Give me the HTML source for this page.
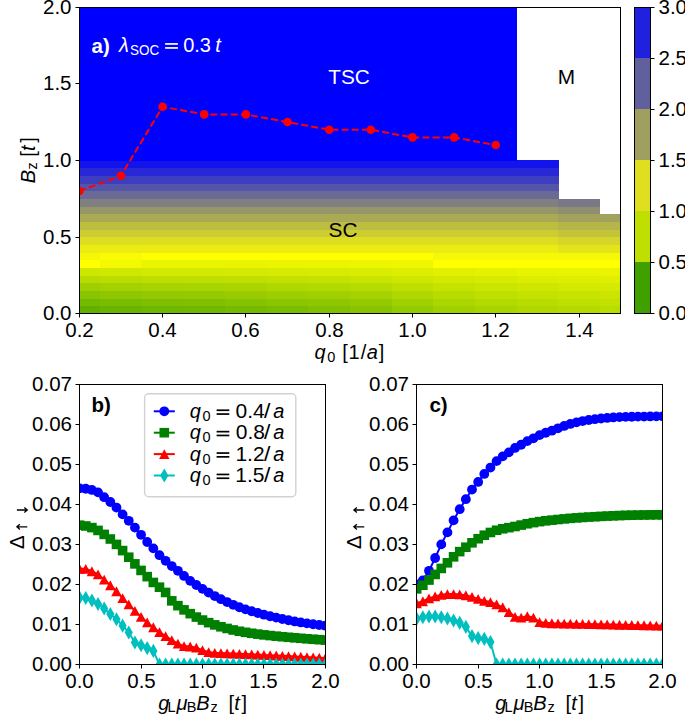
<!DOCTYPE html>
<html><head><meta charset="utf-8"><style>
html,body{margin:0;padding:0;background:#fff;}
svg{display:block;}
.t{font-family:"Liberation Sans", sans-serif;font-size:20.5px;fill:#000;}
.f{font-family:"Liberation Sans", sans-serif;fill:#000;}
.l{font-family:"Liberation Sans", sans-serif;font-size:20.8px;fill:#000;}
</style></head><body>
<svg width="685" height="717" viewBox="0 0 685 717">
<rect width="685" height="717" fill="#fff"/>
<g shape-rendering="crispEdges">
<rect x="79.30" y="306.03" width="21.12" height="7.97" fill="#61b000"/>
<rect x="79.30" y="298.37" width="21.12" height="7.96" fill="#73ba00"/>
<rect x="79.30" y="290.70" width="21.12" height="7.97" fill="#89c400"/>
<rect x="79.30" y="283.04" width="21.12" height="7.97" fill="#9fcf00"/>
<rect x="79.30" y="275.38" width="21.12" height="7.96" fill="#b6db00"/>
<rect x="79.30" y="267.71" width="21.12" height="7.97" fill="#cee700"/>
<rect x="79.30" y="260.04" width="21.12" height="7.97" fill="#ffff00"/>
<rect x="79.30" y="252.38" width="21.12" height="7.96" fill="#f6f609"/>
<rect x="79.30" y="244.71" width="21.12" height="7.97" fill="#ecec13"/>
<rect x="79.30" y="237.05" width="21.12" height="7.96" fill="#dddd22"/>
<rect x="79.30" y="229.38" width="21.12" height="7.96" fill="#cccc33"/>
<rect x="79.30" y="221.72" width="21.12" height="7.97" fill="#bdbd42"/>
<rect x="79.30" y="214.05" width="21.12" height="7.96" fill="#aaaa55"/>
<rect x="79.30" y="206.39" width="21.12" height="7.96" fill="#969669"/>
<rect x="79.30" y="198.72" width="21.12" height="7.97" fill="#808080"/>
<rect x="79.30" y="191.06" width="21.12" height="7.96" fill="#6a6a95"/>
<rect x="79.30" y="183.39" width="21.12" height="7.97" fill="#5454ab"/>
<rect x="79.30" y="175.73" width="21.12" height="7.96" fill="#3e3ec1"/>
<rect x="79.30" y="168.06" width="21.12" height="7.96" fill="#2828d7"/>
<rect x="79.30" y="160.40" width="21.12" height="7.96" fill="#1313ec"/>
<rect x="79.30" y="152.73" width="21.12" height="7.97" fill="#0000ff"/>
<rect x="79.30" y="145.07" width="21.12" height="7.96" fill="#0000ff"/>
<rect x="79.30" y="137.40" width="21.12" height="7.97" fill="#0000ff"/>
<rect x="79.30" y="129.74" width="21.12" height="7.96" fill="#0000ff"/>
<rect x="79.30" y="122.07" width="21.12" height="7.96" fill="#0000ff"/>
<rect x="79.30" y="114.41" width="21.12" height="7.97" fill="#0000ff"/>
<rect x="79.30" y="106.74" width="21.12" height="7.97" fill="#0000ff"/>
<rect x="79.30" y="99.08" width="21.12" height="7.96" fill="#0000ff"/>
<rect x="79.30" y="91.41" width="21.12" height="7.97" fill="#0000ff"/>
<rect x="79.30" y="83.75" width="21.12" height="7.96" fill="#0000ff"/>
<rect x="79.30" y="76.08" width="21.12" height="7.97" fill="#0000ff"/>
<rect x="79.30" y="68.42" width="21.12" height="7.96" fill="#0000ff"/>
<rect x="79.30" y="60.75" width="21.12" height="7.97" fill="#0000ff"/>
<rect x="79.30" y="53.09" width="21.12" height="7.97" fill="#0000ff"/>
<rect x="79.30" y="45.42" width="21.12" height="7.96" fill="#0000ff"/>
<rect x="79.30" y="37.76" width="21.12" height="7.97" fill="#0000ff"/>
<rect x="79.30" y="30.09" width="21.12" height="7.96" fill="#0000ff"/>
<rect x="79.30" y="22.43" width="21.12" height="7.97" fill="#0000ff"/>
<rect x="79.30" y="14.76" width="21.12" height="7.97" fill="#0000ff"/>
<rect x="79.30" y="7.10" width="21.12" height="7.96" fill="#0000ff"/>
<rect x="100.12" y="306.03" width="41.95" height="7.97" fill="#69b400"/>
<rect x="100.12" y="298.37" width="41.95" height="7.96" fill="#7abd00"/>
<rect x="100.12" y="290.70" width="41.95" height="7.97" fill="#8ec700"/>
<rect x="100.12" y="283.04" width="41.95" height="7.97" fill="#a4d200"/>
<rect x="100.12" y="275.38" width="41.95" height="7.96" fill="#badd00"/>
<rect x="100.12" y="267.71" width="41.95" height="7.97" fill="#d0e800"/>
<rect x="100.12" y="260.04" width="41.95" height="7.97" fill="#f2f900"/>
<rect x="100.12" y="252.38" width="41.95" height="7.96" fill="#fafa05"/>
<rect x="100.12" y="244.71" width="41.95" height="7.97" fill="#ecec13"/>
<rect x="100.12" y="237.05" width="41.95" height="7.96" fill="#dddd22"/>
<rect x="100.12" y="229.38" width="41.95" height="7.96" fill="#cccc33"/>
<rect x="100.12" y="221.72" width="41.95" height="7.97" fill="#bdbd42"/>
<rect x="100.12" y="214.05" width="41.95" height="7.96" fill="#aaaa55"/>
<rect x="100.12" y="206.39" width="41.95" height="7.96" fill="#969669"/>
<rect x="100.12" y="198.72" width="41.95" height="7.97" fill="#808080"/>
<rect x="100.12" y="191.06" width="41.95" height="7.96" fill="#6a6a95"/>
<rect x="100.12" y="183.39" width="41.95" height="7.97" fill="#5454ab"/>
<rect x="100.12" y="175.73" width="41.95" height="7.96" fill="#3e3ec1"/>
<rect x="100.12" y="168.06" width="41.95" height="7.96" fill="#2828d7"/>
<rect x="100.12" y="160.40" width="41.95" height="7.96" fill="#1313ec"/>
<rect x="100.12" y="152.73" width="41.95" height="7.97" fill="#0000ff"/>
<rect x="100.12" y="145.07" width="41.95" height="7.96" fill="#0000ff"/>
<rect x="100.12" y="137.40" width="41.95" height="7.97" fill="#0000ff"/>
<rect x="100.12" y="129.74" width="41.95" height="7.96" fill="#0000ff"/>
<rect x="100.12" y="122.07" width="41.95" height="7.96" fill="#0000ff"/>
<rect x="100.12" y="114.41" width="41.95" height="7.97" fill="#0000ff"/>
<rect x="100.12" y="106.74" width="41.95" height="7.97" fill="#0000ff"/>
<rect x="100.12" y="99.08" width="41.95" height="7.96" fill="#0000ff"/>
<rect x="100.12" y="91.41" width="41.95" height="7.97" fill="#0000ff"/>
<rect x="100.12" y="83.75" width="41.95" height="7.96" fill="#0000ff"/>
<rect x="100.12" y="76.08" width="41.95" height="7.97" fill="#0000ff"/>
<rect x="100.12" y="68.42" width="41.95" height="7.96" fill="#0000ff"/>
<rect x="100.12" y="60.75" width="41.95" height="7.97" fill="#0000ff"/>
<rect x="100.12" y="53.09" width="41.95" height="7.97" fill="#0000ff"/>
<rect x="100.12" y="45.42" width="41.95" height="7.96" fill="#0000ff"/>
<rect x="100.12" y="37.76" width="41.95" height="7.97" fill="#0000ff"/>
<rect x="100.12" y="30.09" width="41.95" height="7.96" fill="#0000ff"/>
<rect x="100.12" y="22.43" width="41.95" height="7.97" fill="#0000ff"/>
<rect x="100.12" y="14.76" width="41.95" height="7.97" fill="#0000ff"/>
<rect x="100.12" y="7.10" width="41.95" height="7.96" fill="#0000ff"/>
<rect x="141.77" y="306.03" width="41.95" height="7.97" fill="#6eb700"/>
<rect x="141.77" y="298.37" width="41.95" height="7.96" fill="#7fbf00"/>
<rect x="141.77" y="290.70" width="41.95" height="7.97" fill="#92c900"/>
<rect x="141.77" y="283.04" width="41.95" height="7.97" fill="#a7d300"/>
<rect x="141.77" y="275.38" width="41.95" height="7.96" fill="#bcde00"/>
<rect x="141.77" y="267.71" width="41.95" height="7.97" fill="#d2e900"/>
<rect x="141.77" y="260.04" width="41.95" height="7.97" fill="#e8f400"/>
<rect x="141.77" y="252.38" width="41.95" height="7.96" fill="#ffff00"/>
<rect x="141.77" y="244.71" width="41.95" height="7.97" fill="#ecec13"/>
<rect x="141.77" y="237.05" width="41.95" height="7.96" fill="#dddd22"/>
<rect x="141.77" y="229.38" width="41.95" height="7.96" fill="#cccc33"/>
<rect x="141.77" y="221.72" width="41.95" height="7.97" fill="#bdbd42"/>
<rect x="141.77" y="214.05" width="41.95" height="7.96" fill="#aaaa55"/>
<rect x="141.77" y="206.39" width="41.95" height="7.96" fill="#969669"/>
<rect x="141.77" y="198.72" width="41.95" height="7.97" fill="#808080"/>
<rect x="141.77" y="191.06" width="41.95" height="7.96" fill="#6a6a95"/>
<rect x="141.77" y="183.39" width="41.95" height="7.97" fill="#5454ab"/>
<rect x="141.77" y="175.73" width="41.95" height="7.96" fill="#3e3ec1"/>
<rect x="141.77" y="168.06" width="41.95" height="7.96" fill="#2828d7"/>
<rect x="141.77" y="160.40" width="41.95" height="7.96" fill="#1313ec"/>
<rect x="141.77" y="152.73" width="41.95" height="7.97" fill="#0000ff"/>
<rect x="141.77" y="145.07" width="41.95" height="7.96" fill="#0000ff"/>
<rect x="141.77" y="137.40" width="41.95" height="7.97" fill="#0000ff"/>
<rect x="141.77" y="129.74" width="41.95" height="7.96" fill="#0000ff"/>
<rect x="141.77" y="122.07" width="41.95" height="7.96" fill="#0000ff"/>
<rect x="141.77" y="114.41" width="41.95" height="7.97" fill="#0000ff"/>
<rect x="141.77" y="106.74" width="41.95" height="7.97" fill="#0000ff"/>
<rect x="141.77" y="99.08" width="41.95" height="7.96" fill="#0000ff"/>
<rect x="141.77" y="91.41" width="41.95" height="7.97" fill="#0000ff"/>
<rect x="141.77" y="83.75" width="41.95" height="7.96" fill="#0000ff"/>
<rect x="141.77" y="76.08" width="41.95" height="7.97" fill="#0000ff"/>
<rect x="141.77" y="68.42" width="41.95" height="7.96" fill="#0000ff"/>
<rect x="141.77" y="60.75" width="41.95" height="7.97" fill="#0000ff"/>
<rect x="141.77" y="53.09" width="41.95" height="7.97" fill="#0000ff"/>
<rect x="141.77" y="45.42" width="41.95" height="7.96" fill="#0000ff"/>
<rect x="141.77" y="37.76" width="41.95" height="7.97" fill="#0000ff"/>
<rect x="141.77" y="30.09" width="41.95" height="7.96" fill="#0000ff"/>
<rect x="141.77" y="22.43" width="41.95" height="7.97" fill="#0000ff"/>
<rect x="141.77" y="14.76" width="41.95" height="7.97" fill="#0000ff"/>
<rect x="141.77" y="7.10" width="41.95" height="7.96" fill="#0000ff"/>
<rect x="183.42" y="306.03" width="41.95" height="7.97" fill="#70b800"/>
<rect x="183.42" y="298.37" width="41.95" height="7.96" fill="#81c000"/>
<rect x="183.42" y="290.70" width="41.95" height="7.97" fill="#94ca00"/>
<rect x="183.42" y="283.04" width="41.95" height="7.97" fill="#a8d400"/>
<rect x="183.42" y="275.38" width="41.95" height="7.96" fill="#bdde00"/>
<rect x="183.42" y="267.71" width="41.95" height="7.97" fill="#d3e900"/>
<rect x="183.42" y="260.04" width="41.95" height="7.97" fill="#e9f400"/>
<rect x="183.42" y="252.38" width="41.95" height="7.96" fill="#ffff00"/>
<rect x="183.42" y="244.71" width="41.95" height="7.97" fill="#ecec13"/>
<rect x="183.42" y="237.05" width="41.95" height="7.96" fill="#dddd22"/>
<rect x="183.42" y="229.38" width="41.95" height="7.96" fill="#cccc33"/>
<rect x="183.42" y="221.72" width="41.95" height="7.97" fill="#bdbd42"/>
<rect x="183.42" y="214.05" width="41.95" height="7.96" fill="#aaaa55"/>
<rect x="183.42" y="206.39" width="41.95" height="7.96" fill="#969669"/>
<rect x="183.42" y="198.72" width="41.95" height="7.97" fill="#808080"/>
<rect x="183.42" y="191.06" width="41.95" height="7.96" fill="#6a6a95"/>
<rect x="183.42" y="183.39" width="41.95" height="7.97" fill="#5454ab"/>
<rect x="183.42" y="175.73" width="41.95" height="7.96" fill="#3e3ec1"/>
<rect x="183.42" y="168.06" width="41.95" height="7.96" fill="#2828d7"/>
<rect x="183.42" y="160.40" width="41.95" height="7.96" fill="#1313ec"/>
<rect x="183.42" y="152.73" width="41.95" height="7.97" fill="#0000ff"/>
<rect x="183.42" y="145.07" width="41.95" height="7.96" fill="#0000ff"/>
<rect x="183.42" y="137.40" width="41.95" height="7.97" fill="#0000ff"/>
<rect x="183.42" y="129.74" width="41.95" height="7.96" fill="#0000ff"/>
<rect x="183.42" y="122.07" width="41.95" height="7.96" fill="#0000ff"/>
<rect x="183.42" y="114.41" width="41.95" height="7.97" fill="#0000ff"/>
<rect x="183.42" y="106.74" width="41.95" height="7.97" fill="#0000ff"/>
<rect x="183.42" y="99.08" width="41.95" height="7.96" fill="#0000ff"/>
<rect x="183.42" y="91.41" width="41.95" height="7.97" fill="#0000ff"/>
<rect x="183.42" y="83.75" width="41.95" height="7.96" fill="#0000ff"/>
<rect x="183.42" y="76.08" width="41.95" height="7.97" fill="#0000ff"/>
<rect x="183.42" y="68.42" width="41.95" height="7.96" fill="#0000ff"/>
<rect x="183.42" y="60.75" width="41.95" height="7.97" fill="#0000ff"/>
<rect x="183.42" y="53.09" width="41.95" height="7.97" fill="#0000ff"/>
<rect x="183.42" y="45.42" width="41.95" height="7.96" fill="#0000ff"/>
<rect x="183.42" y="37.76" width="41.95" height="7.97" fill="#0000ff"/>
<rect x="183.42" y="30.09" width="41.95" height="7.96" fill="#0000ff"/>
<rect x="183.42" y="22.43" width="41.95" height="7.97" fill="#0000ff"/>
<rect x="183.42" y="14.76" width="41.95" height="7.97" fill="#0000ff"/>
<rect x="183.42" y="7.10" width="41.95" height="7.96" fill="#0000ff"/>
<rect x="225.06" y="306.03" width="41.95" height="7.97" fill="#75ba00"/>
<rect x="225.06" y="298.37" width="41.95" height="7.96" fill="#85c200"/>
<rect x="225.06" y="290.70" width="41.95" height="7.97" fill="#98cc00"/>
<rect x="225.06" y="283.04" width="41.95" height="7.97" fill="#acd500"/>
<rect x="225.06" y="275.38" width="41.95" height="7.96" fill="#c0df00"/>
<rect x="225.06" y="267.71" width="41.95" height="7.97" fill="#d4ea00"/>
<rect x="225.06" y="260.04" width="41.95" height="7.97" fill="#eaf400"/>
<rect x="225.06" y="252.38" width="41.95" height="7.96" fill="#ffff00"/>
<rect x="225.06" y="244.71" width="41.95" height="7.97" fill="#ecec13"/>
<rect x="225.06" y="237.05" width="41.95" height="7.96" fill="#dddd22"/>
<rect x="225.06" y="229.38" width="41.95" height="7.96" fill="#cccc33"/>
<rect x="225.06" y="221.72" width="41.95" height="7.97" fill="#bdbd42"/>
<rect x="225.06" y="214.05" width="41.95" height="7.96" fill="#aaaa55"/>
<rect x="225.06" y="206.39" width="41.95" height="7.96" fill="#969669"/>
<rect x="225.06" y="198.72" width="41.95" height="7.97" fill="#808080"/>
<rect x="225.06" y="191.06" width="41.95" height="7.96" fill="#6a6a95"/>
<rect x="225.06" y="183.39" width="41.95" height="7.97" fill="#5454ab"/>
<rect x="225.06" y="175.73" width="41.95" height="7.96" fill="#3e3ec1"/>
<rect x="225.06" y="168.06" width="41.95" height="7.96" fill="#2828d7"/>
<rect x="225.06" y="160.40" width="41.95" height="7.96" fill="#1313ec"/>
<rect x="225.06" y="152.73" width="41.95" height="7.97" fill="#0000ff"/>
<rect x="225.06" y="145.07" width="41.95" height="7.96" fill="#0000ff"/>
<rect x="225.06" y="137.40" width="41.95" height="7.97" fill="#0000ff"/>
<rect x="225.06" y="129.74" width="41.95" height="7.96" fill="#0000ff"/>
<rect x="225.06" y="122.07" width="41.95" height="7.96" fill="#0000ff"/>
<rect x="225.06" y="114.41" width="41.95" height="7.97" fill="#0000ff"/>
<rect x="225.06" y="106.74" width="41.95" height="7.97" fill="#0000ff"/>
<rect x="225.06" y="99.08" width="41.95" height="7.96" fill="#0000ff"/>
<rect x="225.06" y="91.41" width="41.95" height="7.97" fill="#0000ff"/>
<rect x="225.06" y="83.75" width="41.95" height="7.96" fill="#0000ff"/>
<rect x="225.06" y="76.08" width="41.95" height="7.97" fill="#0000ff"/>
<rect x="225.06" y="68.42" width="41.95" height="7.96" fill="#0000ff"/>
<rect x="225.06" y="60.75" width="41.95" height="7.97" fill="#0000ff"/>
<rect x="225.06" y="53.09" width="41.95" height="7.97" fill="#0000ff"/>
<rect x="225.06" y="45.42" width="41.95" height="7.96" fill="#0000ff"/>
<rect x="225.06" y="37.76" width="41.95" height="7.97" fill="#0000ff"/>
<rect x="225.06" y="30.09" width="41.95" height="7.96" fill="#0000ff"/>
<rect x="225.06" y="22.43" width="41.95" height="7.97" fill="#0000ff"/>
<rect x="225.06" y="14.76" width="41.95" height="7.97" fill="#0000ff"/>
<rect x="225.06" y="7.10" width="41.95" height="7.96" fill="#0000ff"/>
<rect x="266.71" y="306.03" width="41.95" height="7.97" fill="#7abd00"/>
<rect x="266.71" y="298.37" width="41.95" height="7.96" fill="#8ac500"/>
<rect x="266.71" y="290.70" width="41.95" height="7.97" fill="#9cce00"/>
<rect x="266.71" y="283.04" width="41.95" height="7.97" fill="#afd700"/>
<rect x="266.71" y="275.38" width="41.95" height="7.96" fill="#c2e100"/>
<rect x="266.71" y="267.71" width="41.95" height="7.97" fill="#d6eb00"/>
<rect x="266.71" y="260.04" width="41.95" height="7.97" fill="#eaf500"/>
<rect x="266.71" y="252.38" width="41.95" height="7.96" fill="#ffff00"/>
<rect x="266.71" y="244.71" width="41.95" height="7.97" fill="#ecec13"/>
<rect x="266.71" y="237.05" width="41.95" height="7.96" fill="#dddd22"/>
<rect x="266.71" y="229.38" width="41.95" height="7.96" fill="#cccc33"/>
<rect x="266.71" y="221.72" width="41.95" height="7.97" fill="#bdbd42"/>
<rect x="266.71" y="214.05" width="41.95" height="7.96" fill="#aaaa55"/>
<rect x="266.71" y="206.39" width="41.95" height="7.96" fill="#969669"/>
<rect x="266.71" y="198.72" width="41.95" height="7.97" fill="#808080"/>
<rect x="266.71" y="191.06" width="41.95" height="7.96" fill="#6a6a95"/>
<rect x="266.71" y="183.39" width="41.95" height="7.97" fill="#5454ab"/>
<rect x="266.71" y="175.73" width="41.95" height="7.96" fill="#3e3ec1"/>
<rect x="266.71" y="168.06" width="41.95" height="7.96" fill="#2828d7"/>
<rect x="266.71" y="160.40" width="41.95" height="7.96" fill="#1313ec"/>
<rect x="266.71" y="152.73" width="41.95" height="7.97" fill="#0000ff"/>
<rect x="266.71" y="145.07" width="41.95" height="7.96" fill="#0000ff"/>
<rect x="266.71" y="137.40" width="41.95" height="7.97" fill="#0000ff"/>
<rect x="266.71" y="129.74" width="41.95" height="7.96" fill="#0000ff"/>
<rect x="266.71" y="122.07" width="41.95" height="7.96" fill="#0000ff"/>
<rect x="266.71" y="114.41" width="41.95" height="7.97" fill="#0000ff"/>
<rect x="266.71" y="106.74" width="41.95" height="7.97" fill="#0000ff"/>
<rect x="266.71" y="99.08" width="41.95" height="7.96" fill="#0000ff"/>
<rect x="266.71" y="91.41" width="41.95" height="7.97" fill="#0000ff"/>
<rect x="266.71" y="83.75" width="41.95" height="7.96" fill="#0000ff"/>
<rect x="266.71" y="76.08" width="41.95" height="7.97" fill="#0000ff"/>
<rect x="266.71" y="68.42" width="41.95" height="7.96" fill="#0000ff"/>
<rect x="266.71" y="60.75" width="41.95" height="7.97" fill="#0000ff"/>
<rect x="266.71" y="53.09" width="41.95" height="7.97" fill="#0000ff"/>
<rect x="266.71" y="45.42" width="41.95" height="7.96" fill="#0000ff"/>
<rect x="266.71" y="37.76" width="41.95" height="7.97" fill="#0000ff"/>
<rect x="266.71" y="30.09" width="41.95" height="7.96" fill="#0000ff"/>
<rect x="266.71" y="22.43" width="41.95" height="7.97" fill="#0000ff"/>
<rect x="266.71" y="14.76" width="41.95" height="7.97" fill="#0000ff"/>
<rect x="266.71" y="7.10" width="41.95" height="7.96" fill="#0000ff"/>
<rect x="308.35" y="306.03" width="41.95" height="7.97" fill="#80c000"/>
<rect x="308.35" y="298.37" width="41.95" height="7.96" fill="#8ec700"/>
<rect x="308.35" y="290.70" width="41.95" height="7.97" fill="#a0d000"/>
<rect x="308.35" y="283.04" width="41.95" height="7.97" fill="#b2d900"/>
<rect x="308.35" y="275.38" width="41.95" height="7.96" fill="#c4e200"/>
<rect x="308.35" y="267.71" width="41.95" height="7.97" fill="#d8eb00"/>
<rect x="308.35" y="260.04" width="41.95" height="7.97" fill="#ebf500"/>
<rect x="308.35" y="252.38" width="41.95" height="7.96" fill="#ffff00"/>
<rect x="308.35" y="244.71" width="41.95" height="7.97" fill="#ecec13"/>
<rect x="308.35" y="237.05" width="41.95" height="7.96" fill="#dddd22"/>
<rect x="308.35" y="229.38" width="41.95" height="7.96" fill="#cccc33"/>
<rect x="308.35" y="221.72" width="41.95" height="7.97" fill="#bdbd42"/>
<rect x="308.35" y="214.05" width="41.95" height="7.96" fill="#aaaa55"/>
<rect x="308.35" y="206.39" width="41.95" height="7.96" fill="#969669"/>
<rect x="308.35" y="198.72" width="41.95" height="7.97" fill="#808080"/>
<rect x="308.35" y="191.06" width="41.95" height="7.96" fill="#6a6a95"/>
<rect x="308.35" y="183.39" width="41.95" height="7.97" fill="#5454ab"/>
<rect x="308.35" y="175.73" width="41.95" height="7.96" fill="#3e3ec1"/>
<rect x="308.35" y="168.06" width="41.95" height="7.96" fill="#2828d7"/>
<rect x="308.35" y="160.40" width="41.95" height="7.96" fill="#1313ec"/>
<rect x="308.35" y="152.73" width="41.95" height="7.97" fill="#0000ff"/>
<rect x="308.35" y="145.07" width="41.95" height="7.96" fill="#0000ff"/>
<rect x="308.35" y="137.40" width="41.95" height="7.97" fill="#0000ff"/>
<rect x="308.35" y="129.74" width="41.95" height="7.96" fill="#0000ff"/>
<rect x="308.35" y="122.07" width="41.95" height="7.96" fill="#0000ff"/>
<rect x="308.35" y="114.41" width="41.95" height="7.97" fill="#0000ff"/>
<rect x="308.35" y="106.74" width="41.95" height="7.97" fill="#0000ff"/>
<rect x="308.35" y="99.08" width="41.95" height="7.96" fill="#0000ff"/>
<rect x="308.35" y="91.41" width="41.95" height="7.97" fill="#0000ff"/>
<rect x="308.35" y="83.75" width="41.95" height="7.96" fill="#0000ff"/>
<rect x="308.35" y="76.08" width="41.95" height="7.97" fill="#0000ff"/>
<rect x="308.35" y="68.42" width="41.95" height="7.96" fill="#0000ff"/>
<rect x="308.35" y="60.75" width="41.95" height="7.97" fill="#0000ff"/>
<rect x="308.35" y="53.09" width="41.95" height="7.97" fill="#0000ff"/>
<rect x="308.35" y="45.42" width="41.95" height="7.96" fill="#0000ff"/>
<rect x="308.35" y="37.76" width="41.95" height="7.97" fill="#0000ff"/>
<rect x="308.35" y="30.09" width="41.95" height="7.96" fill="#0000ff"/>
<rect x="308.35" y="22.43" width="41.95" height="7.97" fill="#0000ff"/>
<rect x="308.35" y="14.76" width="41.95" height="7.97" fill="#0000ff"/>
<rect x="308.35" y="7.10" width="41.95" height="7.96" fill="#0000ff"/>
<rect x="350.00" y="306.03" width="41.95" height="7.97" fill="#87c300"/>
<rect x="350.00" y="298.37" width="41.95" height="7.96" fill="#95ca00"/>
<rect x="350.00" y="290.70" width="41.95" height="7.97" fill="#a5d200"/>
<rect x="350.00" y="283.04" width="41.95" height="7.97" fill="#b6db00"/>
<rect x="350.00" y="275.38" width="41.95" height="7.96" fill="#c8e400"/>
<rect x="350.00" y="267.71" width="41.95" height="7.97" fill="#daed00"/>
<rect x="350.00" y="260.04" width="41.95" height="7.97" fill="#ecf600"/>
<rect x="350.00" y="252.38" width="41.95" height="7.96" fill="#ffff00"/>
<rect x="350.00" y="244.71" width="41.95" height="7.97" fill="#ecec13"/>
<rect x="350.00" y="237.05" width="41.95" height="7.96" fill="#dddd22"/>
<rect x="350.00" y="229.38" width="41.95" height="7.96" fill="#cccc33"/>
<rect x="350.00" y="221.72" width="41.95" height="7.97" fill="#bdbd42"/>
<rect x="350.00" y="214.05" width="41.95" height="7.96" fill="#aaaa55"/>
<rect x="350.00" y="206.39" width="41.95" height="7.96" fill="#969669"/>
<rect x="350.00" y="198.72" width="41.95" height="7.97" fill="#808080"/>
<rect x="350.00" y="191.06" width="41.95" height="7.96" fill="#6a6a95"/>
<rect x="350.00" y="183.39" width="41.95" height="7.97" fill="#5454ab"/>
<rect x="350.00" y="175.73" width="41.95" height="7.96" fill="#3e3ec1"/>
<rect x="350.00" y="168.06" width="41.95" height="7.96" fill="#2828d7"/>
<rect x="350.00" y="160.40" width="41.95" height="7.96" fill="#1313ec"/>
<rect x="350.00" y="152.73" width="41.95" height="7.97" fill="#0000ff"/>
<rect x="350.00" y="145.07" width="41.95" height="7.96" fill="#0000ff"/>
<rect x="350.00" y="137.40" width="41.95" height="7.97" fill="#0000ff"/>
<rect x="350.00" y="129.74" width="41.95" height="7.96" fill="#0000ff"/>
<rect x="350.00" y="122.07" width="41.95" height="7.96" fill="#0000ff"/>
<rect x="350.00" y="114.41" width="41.95" height="7.97" fill="#0000ff"/>
<rect x="350.00" y="106.74" width="41.95" height="7.97" fill="#0000ff"/>
<rect x="350.00" y="99.08" width="41.95" height="7.96" fill="#0000ff"/>
<rect x="350.00" y="91.41" width="41.95" height="7.97" fill="#0000ff"/>
<rect x="350.00" y="83.75" width="41.95" height="7.96" fill="#0000ff"/>
<rect x="350.00" y="76.08" width="41.95" height="7.97" fill="#0000ff"/>
<rect x="350.00" y="68.42" width="41.95" height="7.96" fill="#0000ff"/>
<rect x="350.00" y="60.75" width="41.95" height="7.97" fill="#0000ff"/>
<rect x="350.00" y="53.09" width="41.95" height="7.97" fill="#0000ff"/>
<rect x="350.00" y="45.42" width="41.95" height="7.96" fill="#0000ff"/>
<rect x="350.00" y="37.76" width="41.95" height="7.97" fill="#0000ff"/>
<rect x="350.00" y="30.09" width="41.95" height="7.96" fill="#0000ff"/>
<rect x="350.00" y="22.43" width="41.95" height="7.97" fill="#0000ff"/>
<rect x="350.00" y="14.76" width="41.95" height="7.97" fill="#0000ff"/>
<rect x="350.00" y="7.10" width="41.95" height="7.96" fill="#0000ff"/>
<rect x="391.65" y="306.03" width="41.95" height="7.97" fill="#94ca00"/>
<rect x="391.65" y="298.37" width="41.95" height="7.96" fill="#a0d000"/>
<rect x="391.65" y="290.70" width="41.95" height="7.97" fill="#afd700"/>
<rect x="391.65" y="283.04" width="41.95" height="7.97" fill="#bedf00"/>
<rect x="391.65" y="275.38" width="41.95" height="7.96" fill="#cee600"/>
<rect x="391.65" y="267.71" width="41.95" height="7.97" fill="#deee00"/>
<rect x="391.65" y="260.04" width="41.95" height="7.97" fill="#eef700"/>
<rect x="391.65" y="252.38" width="41.95" height="7.96" fill="#ffff00"/>
<rect x="391.65" y="244.71" width="41.95" height="7.97" fill="#ecec13"/>
<rect x="391.65" y="237.05" width="41.95" height="7.96" fill="#dddd22"/>
<rect x="391.65" y="229.38" width="41.95" height="7.96" fill="#cccc33"/>
<rect x="391.65" y="221.72" width="41.95" height="7.97" fill="#bdbd42"/>
<rect x="391.65" y="214.05" width="41.95" height="7.96" fill="#aaaa55"/>
<rect x="391.65" y="206.39" width="41.95" height="7.96" fill="#969669"/>
<rect x="391.65" y="198.72" width="41.95" height="7.97" fill="#808080"/>
<rect x="391.65" y="191.06" width="41.95" height="7.96" fill="#6a6a95"/>
<rect x="391.65" y="183.39" width="41.95" height="7.97" fill="#5454ab"/>
<rect x="391.65" y="175.73" width="41.95" height="7.96" fill="#3e3ec1"/>
<rect x="391.65" y="168.06" width="41.95" height="7.96" fill="#2828d7"/>
<rect x="391.65" y="160.40" width="41.95" height="7.96" fill="#1313ec"/>
<rect x="391.65" y="152.73" width="41.95" height="7.97" fill="#0000ff"/>
<rect x="391.65" y="145.07" width="41.95" height="7.96" fill="#0000ff"/>
<rect x="391.65" y="137.40" width="41.95" height="7.97" fill="#0000ff"/>
<rect x="391.65" y="129.74" width="41.95" height="7.96" fill="#0000ff"/>
<rect x="391.65" y="122.07" width="41.95" height="7.96" fill="#0000ff"/>
<rect x="391.65" y="114.41" width="41.95" height="7.97" fill="#0000ff"/>
<rect x="391.65" y="106.74" width="41.95" height="7.97" fill="#0000ff"/>
<rect x="391.65" y="99.08" width="41.95" height="7.96" fill="#0000ff"/>
<rect x="391.65" y="91.41" width="41.95" height="7.97" fill="#0000ff"/>
<rect x="391.65" y="83.75" width="41.95" height="7.96" fill="#0000ff"/>
<rect x="391.65" y="76.08" width="41.95" height="7.97" fill="#0000ff"/>
<rect x="391.65" y="68.42" width="41.95" height="7.96" fill="#0000ff"/>
<rect x="391.65" y="60.75" width="41.95" height="7.97" fill="#0000ff"/>
<rect x="391.65" y="53.09" width="41.95" height="7.97" fill="#0000ff"/>
<rect x="391.65" y="45.42" width="41.95" height="7.96" fill="#0000ff"/>
<rect x="391.65" y="37.76" width="41.95" height="7.97" fill="#0000ff"/>
<rect x="391.65" y="30.09" width="41.95" height="7.96" fill="#0000ff"/>
<rect x="391.65" y="22.43" width="41.95" height="7.97" fill="#0000ff"/>
<rect x="391.65" y="14.76" width="41.95" height="7.97" fill="#0000ff"/>
<rect x="391.65" y="7.10" width="41.95" height="7.96" fill="#0000ff"/>
<rect x="433.29" y="306.03" width="41.95" height="7.97" fill="#a1d000"/>
<rect x="433.29" y="298.37" width="41.95" height="7.96" fill="#acd600"/>
<rect x="433.29" y="290.70" width="41.95" height="7.97" fill="#b8dc00"/>
<rect x="433.29" y="283.04" width="41.95" height="7.97" fill="#c6e300"/>
<rect x="433.29" y="275.38" width="41.95" height="7.96" fill="#d4e900"/>
<rect x="433.29" y="267.71" width="41.95" height="7.97" fill="#e2f000"/>
<rect x="433.29" y="260.04" width="41.95" height="7.97" fill="#ffff00"/>
<rect x="433.29" y="252.38" width="41.95" height="7.96" fill="#f7f708"/>
<rect x="433.29" y="244.71" width="41.95" height="7.97" fill="#ecec13"/>
<rect x="433.29" y="237.05" width="41.95" height="7.96" fill="#dddd22"/>
<rect x="433.29" y="229.38" width="41.95" height="7.96" fill="#cccc33"/>
<rect x="433.29" y="221.72" width="41.95" height="7.97" fill="#bdbd42"/>
<rect x="433.29" y="214.05" width="41.95" height="7.96" fill="#aaaa55"/>
<rect x="433.29" y="206.39" width="41.95" height="7.96" fill="#969669"/>
<rect x="433.29" y="198.72" width="41.95" height="7.97" fill="#808080"/>
<rect x="433.29" y="191.06" width="41.95" height="7.96" fill="#6a6a95"/>
<rect x="433.29" y="183.39" width="41.95" height="7.97" fill="#5454ab"/>
<rect x="433.29" y="175.73" width="41.95" height="7.96" fill="#3e3ec1"/>
<rect x="433.29" y="168.06" width="41.95" height="7.96" fill="#2828d7"/>
<rect x="433.29" y="160.40" width="41.95" height="7.96" fill="#1313ec"/>
<rect x="433.29" y="152.73" width="41.95" height="7.97" fill="#0000ff"/>
<rect x="433.29" y="145.07" width="41.95" height="7.96" fill="#0000ff"/>
<rect x="433.29" y="137.40" width="41.95" height="7.97" fill="#0000ff"/>
<rect x="433.29" y="129.74" width="41.95" height="7.96" fill="#0000ff"/>
<rect x="433.29" y="122.07" width="41.95" height="7.96" fill="#0000ff"/>
<rect x="433.29" y="114.41" width="41.95" height="7.97" fill="#0000ff"/>
<rect x="433.29" y="106.74" width="41.95" height="7.97" fill="#0000ff"/>
<rect x="433.29" y="99.08" width="41.95" height="7.96" fill="#0000ff"/>
<rect x="433.29" y="91.41" width="41.95" height="7.97" fill="#0000ff"/>
<rect x="433.29" y="83.75" width="41.95" height="7.96" fill="#0000ff"/>
<rect x="433.29" y="76.08" width="41.95" height="7.97" fill="#0000ff"/>
<rect x="433.29" y="68.42" width="41.95" height="7.96" fill="#0000ff"/>
<rect x="433.29" y="60.75" width="41.95" height="7.97" fill="#0000ff"/>
<rect x="433.29" y="53.09" width="41.95" height="7.97" fill="#0000ff"/>
<rect x="433.29" y="45.42" width="41.95" height="7.96" fill="#0000ff"/>
<rect x="433.29" y="37.76" width="41.95" height="7.97" fill="#0000ff"/>
<rect x="433.29" y="30.09" width="41.95" height="7.96" fill="#0000ff"/>
<rect x="433.29" y="22.43" width="41.95" height="7.97" fill="#0000ff"/>
<rect x="433.29" y="14.76" width="41.95" height="7.97" fill="#0000ff"/>
<rect x="433.29" y="7.10" width="41.95" height="7.96" fill="#0000ff"/>
<rect x="474.94" y="306.03" width="41.95" height="7.97" fill="#a8d400"/>
<rect x="474.94" y="298.37" width="41.95" height="7.96" fill="#b2d900"/>
<rect x="474.94" y="290.70" width="41.95" height="7.97" fill="#bedf00"/>
<rect x="474.94" y="283.04" width="41.95" height="7.97" fill="#cae500"/>
<rect x="474.94" y="275.38" width="41.95" height="7.96" fill="#d7eb00"/>
<rect x="474.94" y="267.71" width="41.95" height="7.97" fill="#e4f200"/>
<rect x="474.94" y="260.04" width="41.95" height="7.97" fill="#ffff00"/>
<rect x="474.94" y="252.38" width="41.95" height="7.96" fill="#f7f708"/>
<rect x="474.94" y="244.71" width="41.95" height="7.97" fill="#ecec13"/>
<rect x="474.94" y="237.05" width="41.95" height="7.96" fill="#dddd22"/>
<rect x="474.94" y="229.38" width="41.95" height="7.96" fill="#cccc33"/>
<rect x="474.94" y="221.72" width="41.95" height="7.97" fill="#bdbd42"/>
<rect x="474.94" y="214.05" width="41.95" height="7.96" fill="#aaaa55"/>
<rect x="474.94" y="206.39" width="41.95" height="7.96" fill="#969669"/>
<rect x="474.94" y="198.72" width="41.95" height="7.97" fill="#808080"/>
<rect x="474.94" y="191.06" width="41.95" height="7.96" fill="#6a6a95"/>
<rect x="474.94" y="183.39" width="41.95" height="7.97" fill="#5454ab"/>
<rect x="474.94" y="175.73" width="41.95" height="7.96" fill="#3e3ec1"/>
<rect x="474.94" y="168.06" width="41.95" height="7.96" fill="#2828d7"/>
<rect x="474.94" y="160.40" width="41.95" height="7.96" fill="#1313ec"/>
<rect x="474.94" y="152.73" width="41.95" height="7.97" fill="#0000ff"/>
<rect x="474.94" y="145.07" width="41.95" height="7.96" fill="#0000ff"/>
<rect x="474.94" y="137.40" width="41.95" height="7.97" fill="#0000ff"/>
<rect x="474.94" y="129.74" width="41.95" height="7.96" fill="#0000ff"/>
<rect x="474.94" y="122.07" width="41.95" height="7.96" fill="#0000ff"/>
<rect x="474.94" y="114.41" width="41.95" height="7.97" fill="#0000ff"/>
<rect x="474.94" y="106.74" width="41.95" height="7.97" fill="#0000ff"/>
<rect x="474.94" y="99.08" width="41.95" height="7.96" fill="#0000ff"/>
<rect x="474.94" y="91.41" width="41.95" height="7.97" fill="#0000ff"/>
<rect x="474.94" y="83.75" width="41.95" height="7.96" fill="#0000ff"/>
<rect x="474.94" y="76.08" width="41.95" height="7.97" fill="#0000ff"/>
<rect x="474.94" y="68.42" width="41.95" height="7.96" fill="#0000ff"/>
<rect x="474.94" y="60.75" width="41.95" height="7.97" fill="#0000ff"/>
<rect x="474.94" y="53.09" width="41.95" height="7.97" fill="#0000ff"/>
<rect x="474.94" y="45.42" width="41.95" height="7.96" fill="#0000ff"/>
<rect x="474.94" y="37.76" width="41.95" height="7.97" fill="#0000ff"/>
<rect x="474.94" y="30.09" width="41.95" height="7.96" fill="#0000ff"/>
<rect x="474.94" y="22.43" width="41.95" height="7.97" fill="#0000ff"/>
<rect x="474.94" y="14.76" width="41.95" height="7.97" fill="#0000ff"/>
<rect x="474.94" y="7.10" width="41.95" height="7.96" fill="#0000ff"/>
<rect x="516.58" y="306.03" width="41.95" height="7.97" fill="#b0d800"/>
<rect x="516.58" y="298.37" width="41.95" height="7.96" fill="#b9dc00"/>
<rect x="516.58" y="290.70" width="41.95" height="7.97" fill="#c4e200"/>
<rect x="516.58" y="283.04" width="41.95" height="7.97" fill="#cfe700"/>
<rect x="516.58" y="275.38" width="41.95" height="7.96" fill="#dbed00"/>
<rect x="516.58" y="267.71" width="41.95" height="7.97" fill="#e7f300"/>
<rect x="516.58" y="260.04" width="41.95" height="7.97" fill="#ffff00"/>
<rect x="516.58" y="252.38" width="41.95" height="7.96" fill="#f7f708"/>
<rect x="516.58" y="244.71" width="41.95" height="7.97" fill="#ecec13"/>
<rect x="516.58" y="237.05" width="41.95" height="7.96" fill="#dddd22"/>
<rect x="516.58" y="229.38" width="41.95" height="7.96" fill="#cccc33"/>
<rect x="516.58" y="221.72" width="41.95" height="7.97" fill="#bdbd42"/>
<rect x="516.58" y="214.05" width="41.95" height="7.96" fill="#aaaa55"/>
<rect x="516.58" y="206.39" width="41.95" height="7.96" fill="#969669"/>
<rect x="516.58" y="198.72" width="41.95" height="7.97" fill="#808080"/>
<rect x="516.58" y="191.06" width="41.95" height="7.96" fill="#6a6a95"/>
<rect x="516.58" y="183.39" width="41.95" height="7.97" fill="#5454ab"/>
<rect x="516.58" y="175.73" width="41.95" height="7.96" fill="#3e3ec1"/>
<rect x="516.58" y="168.06" width="41.95" height="7.96" fill="#2828d7"/>
<rect x="516.58" y="160.40" width="41.95" height="7.96" fill="#1313ec"/>
<rect x="558.23" y="306.03" width="41.95" height="7.97" fill="#b5da00"/>
<rect x="558.23" y="298.37" width="41.95" height="7.96" fill="#bedf00"/>
<rect x="558.23" y="290.70" width="41.95" height="7.97" fill="#c8e300"/>
<rect x="558.23" y="283.04" width="41.95" height="7.97" fill="#d2e900"/>
<rect x="558.23" y="275.38" width="41.95" height="7.96" fill="#ddee00"/>
<rect x="558.23" y="267.71" width="41.95" height="7.97" fill="#e8f400"/>
<rect x="558.23" y="260.04" width="41.95" height="7.97" fill="#ffff00"/>
<rect x="558.23" y="252.38" width="41.95" height="7.96" fill="#f7f708"/>
<rect x="558.23" y="244.71" width="41.95" height="7.97" fill="#e4e41b"/>
<rect x="558.23" y="237.05" width="41.95" height="7.96" fill="#d5d52a"/>
<rect x="558.23" y="229.38" width="41.95" height="7.96" fill="#c4c43b"/>
<rect x="558.23" y="221.72" width="41.95" height="7.97" fill="#b5b54a"/>
<rect x="558.23" y="214.05" width="41.95" height="7.96" fill="#a2a25d"/>
<rect x="558.23" y="206.39" width="41.95" height="7.96" fill="#8f8f70"/>
<rect x="558.23" y="198.72" width="41.95" height="7.97" fill="#787887"/>
<rect x="599.88" y="306.03" width="21.12" height="7.97" fill="#badd00"/>
<rect x="599.88" y="298.37" width="21.12" height="7.96" fill="#c2e100"/>
<rect x="599.88" y="290.70" width="21.12" height="7.97" fill="#cce500"/>
<rect x="599.88" y="283.04" width="21.12" height="7.97" fill="#d5ea00"/>
<rect x="599.88" y="275.38" width="21.12" height="7.96" fill="#dfef00"/>
<rect x="599.88" y="267.71" width="21.12" height="7.97" fill="#eaf400"/>
<rect x="599.88" y="260.04" width="21.12" height="7.97" fill="#ffff00"/>
<rect x="599.88" y="252.38" width="21.12" height="7.96" fill="#f7f708"/>
<rect x="599.88" y="244.71" width="21.12" height="7.97" fill="#e4e41b"/>
<rect x="599.88" y="237.05" width="21.12" height="7.96" fill="#d5d52a"/>
<rect x="599.88" y="229.38" width="21.12" height="7.96" fill="#c4c43b"/>
<rect x="599.88" y="221.72" width="21.12" height="7.97" fill="#b5b54a"/>
<rect x="599.88" y="214.05" width="21.12" height="7.96" fill="#a2a25d"/>
</g>
<defs><clipPath id="cpa"><rect x="79.5" y="7.5" width="541.0" height="306.0"/></clipPath></defs>
<g clip-path="url(#cpa)"><polyline points="79.30,191.06 120.95,175.73 162.59,106.74 204.24,114.41 245.88,114.41 287.53,122.07 329.18,129.74 370.82,129.74 412.47,137.41 454.12,137.41 495.76,145.07" fill="none" stroke="#ff0000" stroke-width="2" stroke-dasharray="7,3.2"/>
<circle cx="79.30" cy="191.06" r="4.3" fill="#ff0000"/>
<circle cx="120.95" cy="175.73" r="4.3" fill="#ff0000"/>
<circle cx="162.59" cy="106.74" r="4.3" fill="#ff0000"/>
<circle cx="204.24" cy="114.41" r="4.3" fill="#ff0000"/>
<circle cx="245.88" cy="114.41" r="4.3" fill="#ff0000"/>
<circle cx="287.53" cy="122.07" r="4.3" fill="#ff0000"/>
<circle cx="329.18" cy="129.74" r="4.3" fill="#ff0000"/>
<circle cx="370.82" cy="129.74" r="4.3" fill="#ff0000"/>
<circle cx="412.47" cy="137.41" r="4.3" fill="#ff0000"/>
<circle cx="454.12" cy="137.41" r="4.3" fill="#ff0000"/>
<circle cx="495.76" cy="145.07" r="4.3" fill="#ff0000"/>
</g>
<rect x="79.5" y="7.5" width="541.0" height="306.0" fill="none" stroke="#000" stroke-width="1"/>
<line x1="75.5" y1="313.5" x2="79.5" y2="313.5" stroke="#000" stroke-width="1"/>
<text x="71.5" y="319.9" text-anchor="end" class="t">0.0</text>
<line x1="75.5" y1="237.5" x2="79.5" y2="237.5" stroke="#000" stroke-width="1"/>
<text x="71.5" y="243.9" text-anchor="end" class="t">0.5</text>
<line x1="75.5" y1="160.5" x2="79.5" y2="160.5" stroke="#000" stroke-width="1"/>
<text x="71.5" y="166.9" text-anchor="end" class="t">1.0</text>
<line x1="75.5" y1="83.5" x2="79.5" y2="83.5" stroke="#000" stroke-width="1"/>
<text x="71.5" y="89.9" text-anchor="end" class="t">1.5</text>
<line x1="75.5" y1="7.5" x2="79.5" y2="7.5" stroke="#000" stroke-width="1"/>
<text x="71.5" y="13.9" text-anchor="end" class="t">2.0</text>
<line x1="79.5" y1="313.5" x2="79.5" y2="317.5" stroke="#000" stroke-width="1"/>
<text x="79.5" y="336.7" text-anchor="middle" class="t">0.2</text>
<line x1="162.5" y1="313.5" x2="162.5" y2="317.5" stroke="#000" stroke-width="1"/>
<text x="162.5" y="336.7" text-anchor="middle" class="t">0.4</text>
<line x1="245.5" y1="313.5" x2="245.5" y2="317.5" stroke="#000" stroke-width="1"/>
<text x="245.5" y="336.7" text-anchor="middle" class="t">0.6</text>
<line x1="329.5" y1="313.5" x2="329.5" y2="317.5" stroke="#000" stroke-width="1"/>
<text x="329.5" y="336.7" text-anchor="middle" class="t">0.8</text>
<line x1="412.5" y1="313.5" x2="412.5" y2="317.5" stroke="#000" stroke-width="1"/>
<text x="412.5" y="336.7" text-anchor="middle" class="t">1.0</text>
<line x1="495.5" y1="313.5" x2="495.5" y2="317.5" stroke="#000" stroke-width="1"/>
<text x="495.5" y="336.7" text-anchor="middle" class="t">1.2</text>
<line x1="579.5" y1="313.5" x2="579.5" y2="317.5" stroke="#000" stroke-width="1"/>
<text x="579.5" y="336.7" text-anchor="middle" class="t">1.4</text>
<text x="91.51" y="53.00" class="f" style="font-size:20.5px;font-weight:bold;fill:#fff;">a)</text>
<text x="119.10" y="51.90" class="f" style="font-size:20.0px;font-style:italic;fill:#fff;">λ</text>
<text transform="translate(130.00,54.80) scale(0.93,1)" class="f" style="font-size:14.5px;fill:#fff;">SOC</text>
<rect x="165.1" y="43.1" width="12.8" height="1.7" fill="#fff"/><rect x="165.1" y="47.1" width="12.8" height="1.7" fill="#fff"/>
<text x="183.18" y="51.90" class="f" style="font-size:20.0px;fill:#fff;">0.3</text>
<text x="215.33" y="51.90" class="f" style="font-size:20.0px;font-style:italic;fill:#fff;">t</text>
<text x="349" y="84" text-anchor="middle" class="l" style="fill:#fff">TSC</text>
<text x="566.5" y="84" text-anchor="middle" class="l">M</text>
<text x="343" y="237" text-anchor="middle" class="l">SC</text>
<g transform="translate(34.7,182.4) rotate(-90)">
<text x="-0.97" y="0.00" class="f" style="font-size:20.0px;font-style:italic;">B</text>
<text x="13.00" y="2.50" class="f" style="font-size:14.5px;">z</text>
<text x="25.72" y="0.00" class="f" style="font-size:20.0px;">[</text>
<text x="31.47" y="0.00" class="f" style="font-size:20.0px;font-style:italic;">t</text>
<text x="39.55" y="0.00" class="f" style="font-size:20.0px;">]</text>
</g>
<text x="314.38" y="359.30" class="f" style="font-size:20.0px;font-style:italic;">q</text>
<text x="327.26" y="362.20" class="f" style="font-size:14.5px;">0</text>
<text x="342.27" y="359.30" class="f" style="font-size:20.0px;">[</text>
<text x="348.48" y="359.30" class="f" style="font-size:20.0px;">1</text>
<text x="360.73" y="359.30" class="f" style="font-size:20.0px;">/</text>
<text x="366.65" y="359.30" class="f" style="font-size:20.0px;font-style:italic;">a</text>
<text x="378.75" y="359.30" class="f" style="font-size:20.0px;">]</text>
<g shape-rendering="crispEdges">
<rect x="634.50" y="262.09" width="16.00" height="51.31" fill="#40a000"/>
<rect x="634.50" y="211.07" width="16.00" height="51.32" fill="#bfdf00"/>
<rect x="634.50" y="160.06" width="16.00" height="51.32" fill="#dfdf20"/>
<rect x="634.50" y="109.04" width="16.00" height="51.31" fill="#9f9f60"/>
<rect x="634.50" y="58.03" width="16.00" height="51.31" fill="#60609f"/>
<rect x="634.50" y="7.01" width="16.00" height="51.32" fill="#2020df"/>
</g>
<rect x="634.5" y="7.5" width="16.0" height="306.0" fill="none" stroke="#000" stroke-width="1"/>
<line x1="650.5" y1="313.5" x2="654.5" y2="313.5" stroke="#000" stroke-width="1"/>
<text x="658.5" y="319.9" class="t">0.0</text>
<line x1="650.5" y1="262.5" x2="654.5" y2="262.5" stroke="#000" stroke-width="1"/>
<text x="658.5" y="268.9" class="t">0.5</text>
<line x1="650.5" y1="211.5" x2="654.5" y2="211.5" stroke="#000" stroke-width="1"/>
<text x="658.5" y="217.9" class="t">1.0</text>
<line x1="650.5" y1="160.5" x2="654.5" y2="160.5" stroke="#000" stroke-width="1"/>
<text x="658.5" y="166.9" class="t">1.5</text>
<line x1="650.5" y1="109.5" x2="654.5" y2="109.5" stroke="#000" stroke-width="1"/>
<text x="658.5" y="115.9" class="t">2.0</text>
<line x1="650.5" y1="58.5" x2="654.5" y2="58.5" stroke="#000" stroke-width="1"/>
<text x="658.5" y="64.9" class="t">2.5</text>
<line x1="650.5" y1="7.5" x2="654.5" y2="7.5" stroke="#000" stroke-width="1"/>
<text x="658.5" y="13.9" class="t">3.0</text>
<defs><clipPath id="cpb"><rect x="79.5" y="384.5" width="246.0" height="280.0"/></clipPath></defs>
<g clip-path="url(#cpb)">
<polyline points="79.60,488.37 85.74,488.77 91.89,489.97 98.03,492.37 104.18,497.17 110.32,501.98 116.47,507.58 122.61,514.39 128.76,520.79 134.91,527.60 141.05,534.80 147.19,542.01 153.34,548.41 159.48,555.22 165.63,560.82 171.77,566.03 177.92,570.83 184.06,575.94 190.21,580.84 196.35,585.00 202.50,588.84 208.64,592.58 214.79,596.05 220.93,599.17 227.08,602.05 233.22,604.79 239.37,607.26 245.51,609.37 251.66,611.26 257.80,613.02 263.95,614.68 270.10,616.23 276.24,617.66 282.38,619.01 288.53,620.27 294.67,621.43 300.82,622.47 306.97,623.40 313.11,624.25 319.25,625.01 325.40,625.67" fill="none" stroke="#0000ff" stroke-width="2"/>
<circle cx="79.60" cy="488.37" r="4.9" fill="#0000ff"/>
<circle cx="85.74" cy="488.77" r="4.9" fill="#0000ff"/>
<circle cx="91.89" cy="489.97" r="4.9" fill="#0000ff"/>
<circle cx="98.03" cy="492.37" r="4.9" fill="#0000ff"/>
<circle cx="104.18" cy="497.17" r="4.9" fill="#0000ff"/>
<circle cx="110.32" cy="501.98" r="4.9" fill="#0000ff"/>
<circle cx="116.47" cy="507.58" r="4.9" fill="#0000ff"/>
<circle cx="122.61" cy="514.39" r="4.9" fill="#0000ff"/>
<circle cx="128.76" cy="520.79" r="4.9" fill="#0000ff"/>
<circle cx="134.91" cy="527.60" r="4.9" fill="#0000ff"/>
<circle cx="141.05" cy="534.80" r="4.9" fill="#0000ff"/>
<circle cx="147.19" cy="542.01" r="4.9" fill="#0000ff"/>
<circle cx="153.34" cy="548.41" r="4.9" fill="#0000ff"/>
<circle cx="159.48" cy="555.22" r="4.9" fill="#0000ff"/>
<circle cx="165.63" cy="560.82" r="4.9" fill="#0000ff"/>
<circle cx="171.77" cy="566.03" r="4.9" fill="#0000ff"/>
<circle cx="177.92" cy="570.83" r="4.9" fill="#0000ff"/>
<circle cx="184.06" cy="575.94" r="4.9" fill="#0000ff"/>
<circle cx="190.21" cy="580.84" r="4.9" fill="#0000ff"/>
<circle cx="196.35" cy="585.00" r="4.9" fill="#0000ff"/>
<circle cx="202.50" cy="588.84" r="4.9" fill="#0000ff"/>
<circle cx="208.64" cy="592.58" r="4.9" fill="#0000ff"/>
<circle cx="214.79" cy="596.05" r="4.9" fill="#0000ff"/>
<circle cx="220.93" cy="599.17" r="4.9" fill="#0000ff"/>
<circle cx="227.08" cy="602.05" r="4.9" fill="#0000ff"/>
<circle cx="233.22" cy="604.79" r="4.9" fill="#0000ff"/>
<circle cx="239.37" cy="607.26" r="4.9" fill="#0000ff"/>
<circle cx="245.51" cy="609.37" r="4.9" fill="#0000ff"/>
<circle cx="251.66" cy="611.26" r="4.9" fill="#0000ff"/>
<circle cx="257.80" cy="613.02" r="4.9" fill="#0000ff"/>
<circle cx="263.95" cy="614.68" r="4.9" fill="#0000ff"/>
<circle cx="270.10" cy="616.23" r="4.9" fill="#0000ff"/>
<circle cx="276.24" cy="617.66" r="4.9" fill="#0000ff"/>
<circle cx="282.38" cy="619.01" r="4.9" fill="#0000ff"/>
<circle cx="288.53" cy="620.27" r="4.9" fill="#0000ff"/>
<circle cx="294.67" cy="621.43" r="4.9" fill="#0000ff"/>
<circle cx="300.82" cy="622.47" r="4.9" fill="#0000ff"/>
<circle cx="306.97" cy="623.40" r="4.9" fill="#0000ff"/>
<circle cx="313.11" cy="624.25" r="4.9" fill="#0000ff"/>
<circle cx="319.25" cy="625.01" r="4.9" fill="#0000ff"/>
<circle cx="325.40" cy="625.67" r="4.9" fill="#0000ff"/>
<polyline points="79.60,525.20 85.74,525.98 91.89,527.60 98.03,530.43 104.18,534.40 110.32,539.01 116.47,544.41 122.61,550.59 128.76,557.22 134.91,563.88 141.05,570.43 147.19,576.64 153.34,582.44 159.48,587.19 165.63,592.45 171.77,600.85 177.92,605.66 184.06,609.87 190.21,613.66 196.35,617.07 202.50,620.07 208.64,622.64 214.79,624.87 220.93,626.79 227.08,628.47 233.22,629.99 239.37,631.28 245.51,632.33 251.66,633.28 257.80,634.12 263.95,634.88 270.10,635.56 276.24,636.17 282.38,636.74 288.53,637.28 294.67,637.80 300.82,638.31 306.97,638.79 313.11,639.25 319.25,639.68 325.40,640.08" fill="none" stroke="#008000" stroke-width="2"/>
<rect x="74.80" y="520.40" width="9.60" height="9.60" fill="#008000"/>
<rect x="80.94" y="521.18" width="9.60" height="9.60" fill="#008000"/>
<rect x="87.09" y="522.80" width="9.60" height="9.60" fill="#008000"/>
<rect x="93.23" y="525.63" width="9.60" height="9.60" fill="#008000"/>
<rect x="99.38" y="529.60" width="9.60" height="9.60" fill="#008000"/>
<rect x="105.52" y="534.21" width="9.60" height="9.60" fill="#008000"/>
<rect x="111.67" y="539.61" width="9.60" height="9.60" fill="#008000"/>
<rect x="117.81" y="545.79" width="9.60" height="9.60" fill="#008000"/>
<rect x="123.96" y="552.42" width="9.60" height="9.60" fill="#008000"/>
<rect x="130.10" y="559.08" width="9.60" height="9.60" fill="#008000"/>
<rect x="136.25" y="565.63" width="9.60" height="9.60" fill="#008000"/>
<rect x="142.39" y="571.84" width="9.60" height="9.60" fill="#008000"/>
<rect x="148.54" y="577.64" width="9.60" height="9.60" fill="#008000"/>
<rect x="154.68" y="582.39" width="9.60" height="9.60" fill="#008000"/>
<rect x="160.83" y="587.65" width="9.60" height="9.60" fill="#008000"/>
<rect x="166.97" y="596.05" width="9.60" height="9.60" fill="#008000"/>
<rect x="173.12" y="600.86" width="9.60" height="9.60" fill="#008000"/>
<rect x="179.26" y="605.07" width="9.60" height="9.60" fill="#008000"/>
<rect x="185.41" y="608.86" width="9.60" height="9.60" fill="#008000"/>
<rect x="191.55" y="612.27" width="9.60" height="9.60" fill="#008000"/>
<rect x="197.70" y="615.27" width="9.60" height="9.60" fill="#008000"/>
<rect x="203.84" y="617.84" width="9.60" height="9.60" fill="#008000"/>
<rect x="209.99" y="620.07" width="9.60" height="9.60" fill="#008000"/>
<rect x="216.13" y="621.99" width="9.60" height="9.60" fill="#008000"/>
<rect x="222.28" y="623.67" width="9.60" height="9.60" fill="#008000"/>
<rect x="228.42" y="625.19" width="9.60" height="9.60" fill="#008000"/>
<rect x="234.57" y="626.48" width="9.60" height="9.60" fill="#008000"/>
<rect x="240.71" y="627.53" width="9.60" height="9.60" fill="#008000"/>
<rect x="246.86" y="628.48" width="9.60" height="9.60" fill="#008000"/>
<rect x="253.00" y="629.32" width="9.60" height="9.60" fill="#008000"/>
<rect x="259.15" y="630.08" width="9.60" height="9.60" fill="#008000"/>
<rect x="265.30" y="630.76" width="9.60" height="9.60" fill="#008000"/>
<rect x="271.44" y="631.37" width="9.60" height="9.60" fill="#008000"/>
<rect x="277.58" y="631.94" width="9.60" height="9.60" fill="#008000"/>
<rect x="283.73" y="632.48" width="9.60" height="9.60" fill="#008000"/>
<rect x="289.87" y="633.00" width="9.60" height="9.60" fill="#008000"/>
<rect x="296.02" y="633.51" width="9.60" height="9.60" fill="#008000"/>
<rect x="302.17" y="633.99" width="9.60" height="9.60" fill="#008000"/>
<rect x="308.31" y="634.45" width="9.60" height="9.60" fill="#008000"/>
<rect x="314.45" y="634.88" width="9.60" height="9.60" fill="#008000"/>
<rect x="320.60" y="635.28" width="9.60" height="9.60" fill="#008000"/>
<polyline points="79.60,568.83 85.74,568.83 91.89,571.23 98.03,574.43 104.18,579.64 110.32,585.24 116.47,591.25 122.61,598.05 128.76,604.46 134.91,610.86 141.05,616.86 147.19,622.47 153.34,627.27 159.48,632.08 165.63,636.08 171.77,640.08 177.92,643.68 184.06,646.09 190.21,646.49 196.35,647.69 202.50,650.09 208.64,652.09 214.79,652.89 220.93,653.12 227.08,653.29 233.22,653.53 239.37,653.78 245.51,654.05 251.66,654.32 257.80,654.61 263.95,654.89 270.10,655.18 276.24,655.48 282.38,655.78 288.53,656.09 294.67,656.41 300.82,656.74 306.97,657.07 313.11,657.40 319.25,657.75 325.40,658.10" fill="none" stroke="#ff0000" stroke-width="2"/>
<polygon points="79.60,563.93 74.40,573.73 84.80,573.73" fill="#ff0000"/>
<polygon points="85.74,563.93 80.54,573.73 90.94,573.73" fill="#ff0000"/>
<polygon points="91.89,566.33 86.69,576.13 97.09,576.13" fill="#ff0000"/>
<polygon points="98.03,569.53 92.83,579.33 103.23,579.33" fill="#ff0000"/>
<polygon points="104.18,574.74 98.98,584.54 109.38,584.54" fill="#ff0000"/>
<polygon points="110.32,580.34 105.12,590.14 115.52,590.14" fill="#ff0000"/>
<polygon points="116.47,586.35 111.27,596.15 121.67,596.15" fill="#ff0000"/>
<polygon points="122.61,593.15 117.41,602.95 127.81,602.95" fill="#ff0000"/>
<polygon points="128.76,599.56 123.56,609.36 133.96,609.36" fill="#ff0000"/>
<polygon points="134.91,605.96 129.71,615.76 140.10,615.76" fill="#ff0000"/>
<polygon points="141.05,611.96 135.85,621.76 146.25,621.76" fill="#ff0000"/>
<polygon points="147.19,617.57 142.00,627.37 152.39,627.37" fill="#ff0000"/>
<polygon points="153.34,622.37 148.14,632.17 158.54,632.17" fill="#ff0000"/>
<polygon points="159.48,627.18 154.28,636.98 164.68,636.98" fill="#ff0000"/>
<polygon points="165.63,631.18 160.43,640.98 170.83,640.98" fill="#ff0000"/>
<polygon points="171.77,635.18 166.57,644.98 176.97,644.98" fill="#ff0000"/>
<polygon points="177.92,638.78 172.72,648.58 183.12,648.58" fill="#ff0000"/>
<polygon points="184.06,641.19 178.87,650.99 189.26,650.99" fill="#ff0000"/>
<polygon points="190.21,641.59 185.01,651.39 195.41,651.39" fill="#ff0000"/>
<polygon points="196.35,642.79 191.15,652.59 201.55,652.59" fill="#ff0000"/>
<polygon points="202.50,645.19 197.30,654.99 207.70,654.99" fill="#ff0000"/>
<polygon points="208.64,647.19 203.44,656.99 213.84,656.99" fill="#ff0000"/>
<polygon points="214.79,647.99 209.59,657.79 219.99,657.79" fill="#ff0000"/>
<polygon points="220.93,648.22 215.73,658.02 226.13,658.02" fill="#ff0000"/>
<polygon points="227.08,648.39 221.88,658.19 232.28,658.19" fill="#ff0000"/>
<polygon points="233.22,648.63 228.03,658.43 238.42,658.43" fill="#ff0000"/>
<polygon points="239.37,648.88 234.17,658.68 244.57,658.68" fill="#ff0000"/>
<polygon points="245.51,649.15 240.31,658.95 250.71,658.95" fill="#ff0000"/>
<polygon points="251.66,649.42 246.46,659.22 256.86,659.22" fill="#ff0000"/>
<polygon points="257.80,649.71 252.60,659.51 263.00,659.51" fill="#ff0000"/>
<polygon points="263.95,649.99 258.75,659.79 269.15,659.79" fill="#ff0000"/>
<polygon points="270.10,650.28 264.90,660.08 275.30,660.08" fill="#ff0000"/>
<polygon points="276.24,650.58 271.04,660.38 281.44,660.38" fill="#ff0000"/>
<polygon points="282.38,650.88 277.19,660.68 287.58,660.68" fill="#ff0000"/>
<polygon points="288.53,651.19 283.33,660.99 293.73,660.99" fill="#ff0000"/>
<polygon points="294.67,651.51 289.47,661.31 299.87,661.31" fill="#ff0000"/>
<polygon points="300.82,651.84 295.62,661.64 306.02,661.64" fill="#ff0000"/>
<polygon points="306.97,652.17 301.77,661.97 312.17,661.97" fill="#ff0000"/>
<polygon points="313.11,652.50 307.91,662.30 318.31,662.30" fill="#ff0000"/>
<polygon points="319.25,652.85 314.06,662.65 324.45,662.65" fill="#ff0000"/>
<polygon points="325.40,653.20 320.20,663.00 330.60,663.00" fill="#ff0000"/>
<polyline points="79.60,597.65 85.74,598.05 91.89,600.45 98.03,604.05 104.18,608.46 110.32,614.06 116.47,619.27 122.61,625.67 128.76,632.48 134.91,642.48 141.05,645.29 147.19,648.09 153.34,650.89 159.48,664.50 165.63,664.50 171.77,664.50 177.92,664.50 184.06,664.50 190.21,664.50 196.35,664.50 202.50,664.50 208.64,664.50 214.79,664.50 220.93,664.50 227.08,664.50 233.22,664.50 239.37,664.50 245.51,664.50 251.66,664.50 257.80,664.50 263.95,664.50 270.10,664.50 276.24,664.50 282.38,664.50 288.53,664.50 294.67,664.50 300.82,664.50 306.97,664.50 313.11,664.50 319.25,664.50 325.40,664.50" fill="none" stroke="#00bfbf" stroke-width="2"/>
<polygon points="79.60,590.60 83.70,597.65 79.60,604.70 75.50,597.65" fill="#00bfbf"/>
<polygon points="85.74,591.00 89.84,598.05 85.74,605.10 81.64,598.05" fill="#00bfbf"/>
<polygon points="91.89,593.40 95.99,600.45 91.89,607.50 87.79,600.45" fill="#00bfbf"/>
<polygon points="98.03,597.00 102.13,604.05 98.03,611.10 93.94,604.05" fill="#00bfbf"/>
<polygon points="104.18,601.41 108.28,608.46 104.18,615.51 100.08,608.46" fill="#00bfbf"/>
<polygon points="110.32,607.01 114.42,614.06 110.32,621.11 106.22,614.06" fill="#00bfbf"/>
<polygon points="116.47,612.22 120.57,619.27 116.47,626.32 112.37,619.27" fill="#00bfbf"/>
<polygon points="122.61,618.62 126.71,625.67 122.61,632.72 118.51,625.67" fill="#00bfbf"/>
<polygon points="128.76,625.43 132.86,632.48 128.76,639.53 124.66,632.48" fill="#00bfbf"/>
<polygon points="134.91,635.43 139.00,642.48 134.91,649.53 130.81,642.48" fill="#00bfbf"/>
<polygon points="141.05,638.24 145.15,645.29 141.05,652.34 136.95,645.29" fill="#00bfbf"/>
<polygon points="147.19,641.04 151.29,648.09 147.19,655.14 143.09,648.09" fill="#00bfbf"/>
<polygon points="153.34,643.84 157.44,650.89 153.34,657.94 149.24,650.89" fill="#00bfbf"/>
<polygon points="159.48,657.45 163.58,664.50 159.48,671.55 155.38,664.50" fill="#00bfbf"/>
<polygon points="165.63,657.45 169.73,664.50 165.63,671.55 161.53,664.50" fill="#00bfbf"/>
<polygon points="171.77,657.45 175.87,664.50 171.77,671.55 167.67,664.50" fill="#00bfbf"/>
<polygon points="177.92,657.45 182.02,664.50 177.92,671.55 173.82,664.50" fill="#00bfbf"/>
<polygon points="184.06,657.45 188.16,664.50 184.06,671.55 179.97,664.50" fill="#00bfbf"/>
<polygon points="190.21,657.45 194.31,664.50 190.21,671.55 186.11,664.50" fill="#00bfbf"/>
<polygon points="196.35,657.45 200.45,664.50 196.35,671.55 192.25,664.50" fill="#00bfbf"/>
<polygon points="202.50,657.45 206.60,664.50 202.50,671.55 198.40,664.50" fill="#00bfbf"/>
<polygon points="208.64,657.45 212.74,664.50 208.64,671.55 204.54,664.50" fill="#00bfbf"/>
<polygon points="214.79,657.45 218.89,664.50 214.79,671.55 210.69,664.50" fill="#00bfbf"/>
<polygon points="220.93,657.45 225.03,664.50 220.93,671.55 216.83,664.50" fill="#00bfbf"/>
<polygon points="227.08,657.45 231.18,664.50 227.08,671.55 222.98,664.50" fill="#00bfbf"/>
<polygon points="233.22,657.45 237.32,664.50 233.22,671.55 229.12,664.50" fill="#00bfbf"/>
<polygon points="239.37,657.45 243.47,664.50 239.37,671.55 235.27,664.50" fill="#00bfbf"/>
<polygon points="245.51,657.45 249.61,664.50 245.51,671.55 241.41,664.50" fill="#00bfbf"/>
<polygon points="251.66,657.45 255.76,664.50 251.66,671.55 247.56,664.50" fill="#00bfbf"/>
<polygon points="257.80,657.45 261.90,664.50 257.80,671.55 253.70,664.50" fill="#00bfbf"/>
<polygon points="263.95,657.45 268.05,664.50 263.95,671.55 259.85,664.50" fill="#00bfbf"/>
<polygon points="270.10,657.45 274.20,664.50 270.10,671.55 266.00,664.50" fill="#00bfbf"/>
<polygon points="276.24,657.45 280.34,664.50 276.24,671.55 272.14,664.50" fill="#00bfbf"/>
<polygon points="282.38,657.45 286.49,664.50 282.38,671.55 278.28,664.50" fill="#00bfbf"/>
<polygon points="288.53,657.45 292.63,664.50 288.53,671.55 284.43,664.50" fill="#00bfbf"/>
<polygon points="294.67,657.45 298.77,664.50 294.67,671.55 290.57,664.50" fill="#00bfbf"/>
<polygon points="300.82,657.45 304.92,664.50 300.82,671.55 296.72,664.50" fill="#00bfbf"/>
<polygon points="306.97,657.45 311.07,664.50 306.97,671.55 302.87,664.50" fill="#00bfbf"/>
<polygon points="313.11,657.45 317.21,664.50 313.11,671.55 309.01,664.50" fill="#00bfbf"/>
<polygon points="319.25,657.45 323.36,664.50 319.25,671.55 315.15,664.50" fill="#00bfbf"/>
<polygon points="325.40,657.45 329.50,664.50 325.40,671.55 321.30,664.50" fill="#00bfbf"/>
</g>
<rect x="79.5" y="384.5" width="246.0" height="280.0" fill="none" stroke="#000" stroke-width="1"/>
<line x1="75.5" y1="664.5" x2="79.5" y2="664.5" stroke="#000" stroke-width="1"/>
<text x="72.0" y="670.9" text-anchor="end" class="t">0.00</text>
<line x1="75.5" y1="624.5" x2="79.5" y2="624.5" stroke="#000" stroke-width="1"/>
<text x="72.0" y="630.9" text-anchor="end" class="t">0.01</text>
<line x1="75.5" y1="584.5" x2="79.5" y2="584.5" stroke="#000" stroke-width="1"/>
<text x="72.0" y="590.9" text-anchor="end" class="t">0.02</text>
<line x1="75.5" y1="544.5" x2="79.5" y2="544.5" stroke="#000" stroke-width="1"/>
<text x="72.0" y="550.9" text-anchor="end" class="t">0.03</text>
<line x1="75.5" y1="504.5" x2="79.5" y2="504.5" stroke="#000" stroke-width="1"/>
<text x="72.0" y="510.9" text-anchor="end" class="t">0.04</text>
<line x1="75.5" y1="464.5" x2="79.5" y2="464.5" stroke="#000" stroke-width="1"/>
<text x="72.0" y="470.9" text-anchor="end" class="t">0.05</text>
<line x1="75.5" y1="424.5" x2="79.5" y2="424.5" stroke="#000" stroke-width="1"/>
<text x="72.0" y="430.9" text-anchor="end" class="t">0.06</text>
<line x1="75.5" y1="384.5" x2="79.5" y2="384.5" stroke="#000" stroke-width="1"/>
<text x="72.0" y="390.9" text-anchor="end" class="t">0.07</text>
<line x1="79.5" y1="664.5" x2="79.5" y2="668.5" stroke="#000" stroke-width="1"/>
<text x="79.5" y="687.7" text-anchor="middle" class="t">0.0</text>
<line x1="141.5" y1="664.5" x2="141.5" y2="668.5" stroke="#000" stroke-width="1"/>
<text x="141.5" y="687.7" text-anchor="middle" class="t">0.5</text>
<line x1="202.5" y1="664.5" x2="202.5" y2="668.5" stroke="#000" stroke-width="1"/>
<text x="202.5" y="687.7" text-anchor="middle" class="t">1.0</text>
<line x1="263.5" y1="664.5" x2="263.5" y2="668.5" stroke="#000" stroke-width="1"/>
<text x="263.5" y="687.7" text-anchor="middle" class="t">1.5</text>
<line x1="325.5" y1="664.5" x2="325.5" y2="668.5" stroke="#000" stroke-width="1"/>
<text x="325.5" y="687.7" text-anchor="middle" class="t">2.0</text>
<text x="91.59" y="411.90" class="f" style="font-size:20.5px;font-weight:bold;">b)</text>
<text x="158.20" y="709.80" class="f" style="font-size:20.0px;font-style:italic;">g</text>
<text x="167.61" y="712.00" class="f" style="font-size:14.5px;">L</text>
<text x="176.57" y="709.80" class="f" style="font-size:20.0px;font-style:italic;">μ</text>
<text x="186.69" y="712.00" class="f" style="font-size:14.5px;">B</text>
<text x="196.22" y="709.80" class="f" style="font-size:20.0px;font-style:italic;">B</text>
<text x="210.45" y="712.00" class="f" style="font-size:14.5px;">z</text>
<text x="228.57" y="709.80" class="f" style="font-size:20.0px;">[</text>
<text x="234.28" y="709.80" class="f" style="font-size:20.0px;font-style:italic;">t</text>
<text x="241.60" y="709.80" class="f" style="font-size:20.0px;">]</text>
<g transform="translate(23.80,548.3) rotate(-90)">
<text x="-0.71" y="0.00" class="f" style="font-size:20.4px;">Δ</text>
<path d="M21.45,3.5 L21.45,-6.9 M18.85,-3.9000000000000004 L21.45,-6.9 L24.05,-3.9000000000000004" fill="none" stroke="#000" stroke-width="1.3"/>
<path d="M38.30,-6.9 L38.30,3.5 M35.70,0.5 L38.30,3.5 L40.90,0.5" fill="none" stroke="#000" stroke-width="1.3"/>
</g>
<defs><clipPath id="cpc"><rect x="416.5" y="384.5" width="246.0" height="280.0"/></clipPath></defs>
<g clip-path="url(#cpc)">
<polyline points="416.70,584.44 422.84,580.44 428.99,570.83 435.13,558.02 441.28,544.41 447.43,532.40 453.57,520.39 459.71,509.18 465.86,499.18 472.00,489.57 478.15,481.96 484.30,473.96 490.44,467.55 496.58,461.15 502.73,456.34 508.88,452.34 515.02,447.94 521.16,444.74 527.31,441.13 533.45,438.33 539.60,435.13 545.75,432.73 551.89,430.72 558.03,428.32 564.18,425.97 570.33,423.92 576.47,422.35 582.62,421.05 588.76,420.01 594.90,419.18 601.05,418.49 607.19,417.92 613.34,417.42 619.49,417.09 625.63,416.91 631.77,416.77 637.92,416.66 644.07,416.55 650.21,416.46 656.36,416.37 662.50,416.31" fill="none" stroke="#0000ff" stroke-width="2"/>
<circle cx="416.70" cy="584.44" r="4.9" fill="#0000ff"/>
<circle cx="422.84" cy="580.44" r="4.9" fill="#0000ff"/>
<circle cx="428.99" cy="570.83" r="4.9" fill="#0000ff"/>
<circle cx="435.13" cy="558.02" r="4.9" fill="#0000ff"/>
<circle cx="441.28" cy="544.41" r="4.9" fill="#0000ff"/>
<circle cx="447.43" cy="532.40" r="4.9" fill="#0000ff"/>
<circle cx="453.57" cy="520.39" r="4.9" fill="#0000ff"/>
<circle cx="459.71" cy="509.18" r="4.9" fill="#0000ff"/>
<circle cx="465.86" cy="499.18" r="4.9" fill="#0000ff"/>
<circle cx="472.00" cy="489.57" r="4.9" fill="#0000ff"/>
<circle cx="478.15" cy="481.96" r="4.9" fill="#0000ff"/>
<circle cx="484.30" cy="473.96" r="4.9" fill="#0000ff"/>
<circle cx="490.44" cy="467.55" r="4.9" fill="#0000ff"/>
<circle cx="496.58" cy="461.15" r="4.9" fill="#0000ff"/>
<circle cx="502.73" cy="456.34" r="4.9" fill="#0000ff"/>
<circle cx="508.88" cy="452.34" r="4.9" fill="#0000ff"/>
<circle cx="515.02" cy="447.94" r="4.9" fill="#0000ff"/>
<circle cx="521.16" cy="444.74" r="4.9" fill="#0000ff"/>
<circle cx="527.31" cy="441.13" r="4.9" fill="#0000ff"/>
<circle cx="533.45" cy="438.33" r="4.9" fill="#0000ff"/>
<circle cx="539.60" cy="435.13" r="4.9" fill="#0000ff"/>
<circle cx="545.75" cy="432.73" r="4.9" fill="#0000ff"/>
<circle cx="551.89" cy="430.72" r="4.9" fill="#0000ff"/>
<circle cx="558.03" cy="428.32" r="4.9" fill="#0000ff"/>
<circle cx="564.18" cy="425.97" r="4.9" fill="#0000ff"/>
<circle cx="570.33" cy="423.92" r="4.9" fill="#0000ff"/>
<circle cx="576.47" cy="422.35" r="4.9" fill="#0000ff"/>
<circle cx="582.62" cy="421.05" r="4.9" fill="#0000ff"/>
<circle cx="588.76" cy="420.01" r="4.9" fill="#0000ff"/>
<circle cx="594.90" cy="419.18" r="4.9" fill="#0000ff"/>
<circle cx="601.05" cy="418.49" r="4.9" fill="#0000ff"/>
<circle cx="607.19" cy="417.92" r="4.9" fill="#0000ff"/>
<circle cx="613.34" cy="417.42" r="4.9" fill="#0000ff"/>
<circle cx="619.49" cy="417.09" r="4.9" fill="#0000ff"/>
<circle cx="625.63" cy="416.91" r="4.9" fill="#0000ff"/>
<circle cx="631.77" cy="416.77" r="4.9" fill="#0000ff"/>
<circle cx="637.92" cy="416.66" r="4.9" fill="#0000ff"/>
<circle cx="644.07" cy="416.55" r="4.9" fill="#0000ff"/>
<circle cx="650.21" cy="416.46" r="4.9" fill="#0000ff"/>
<circle cx="656.36" cy="416.37" r="4.9" fill="#0000ff"/>
<circle cx="662.50" cy="416.31" r="4.9" fill="#0000ff"/>
<polyline points="416.70,588.84 422.84,585.24 428.99,580.04 435.13,574.43 441.28,568.43 447.43,562.82 453.57,556.82 459.71,551.62 465.86,547.21 472.00,542.81 478.15,538.71 484.30,535.20 490.44,532.46 496.58,530.25 502.73,528.75 508.88,527.66 515.02,526.49 521.16,525.08 527.31,523.74 533.45,522.61 539.60,521.62 545.75,520.81 551.89,520.14 558.03,519.52 564.18,518.89 570.33,518.34 576.47,517.88 582.62,517.45 588.76,517.06 594.90,516.71 601.05,516.39 607.19,516.09 613.34,515.81 619.49,515.55 625.63,515.34 631.77,515.19 637.92,515.07 644.07,514.96 650.21,514.87 656.36,514.81 662.50,514.79" fill="none" stroke="#008000" stroke-width="2"/>
<rect x="411.90" y="584.04" width="9.60" height="9.60" fill="#008000"/>
<rect x="418.04" y="580.44" width="9.60" height="9.60" fill="#008000"/>
<rect x="424.19" y="575.24" width="9.60" height="9.60" fill="#008000"/>
<rect x="430.33" y="569.63" width="9.60" height="9.60" fill="#008000"/>
<rect x="436.48" y="563.63" width="9.60" height="9.60" fill="#008000"/>
<rect x="442.62" y="558.02" width="9.60" height="9.60" fill="#008000"/>
<rect x="448.77" y="552.02" width="9.60" height="9.60" fill="#008000"/>
<rect x="454.91" y="546.82" width="9.60" height="9.60" fill="#008000"/>
<rect x="461.06" y="542.41" width="9.60" height="9.60" fill="#008000"/>
<rect x="467.20" y="538.01" width="9.60" height="9.60" fill="#008000"/>
<rect x="473.35" y="533.91" width="9.60" height="9.60" fill="#008000"/>
<rect x="479.50" y="530.40" width="9.60" height="9.60" fill="#008000"/>
<rect x="485.64" y="527.66" width="9.60" height="9.60" fill="#008000"/>
<rect x="491.78" y="525.45" width="9.60" height="9.60" fill="#008000"/>
<rect x="497.93" y="523.95" width="9.60" height="9.60" fill="#008000"/>
<rect x="504.07" y="522.86" width="9.60" height="9.60" fill="#008000"/>
<rect x="510.22" y="521.69" width="9.60" height="9.60" fill="#008000"/>
<rect x="516.37" y="520.28" width="9.60" height="9.60" fill="#008000"/>
<rect x="522.51" y="518.94" width="9.60" height="9.60" fill="#008000"/>
<rect x="528.65" y="517.81" width="9.60" height="9.60" fill="#008000"/>
<rect x="534.80" y="516.82" width="9.60" height="9.60" fill="#008000"/>
<rect x="540.95" y="516.01" width="9.60" height="9.60" fill="#008000"/>
<rect x="547.09" y="515.34" width="9.60" height="9.60" fill="#008000"/>
<rect x="553.24" y="514.72" width="9.60" height="9.60" fill="#008000"/>
<rect x="559.38" y="514.09" width="9.60" height="9.60" fill="#008000"/>
<rect x="565.53" y="513.54" width="9.60" height="9.60" fill="#008000"/>
<rect x="571.67" y="513.08" width="9.60" height="9.60" fill="#008000"/>
<rect x="577.82" y="512.65" width="9.60" height="9.60" fill="#008000"/>
<rect x="583.96" y="512.26" width="9.60" height="9.60" fill="#008000"/>
<rect x="590.11" y="511.91" width="9.60" height="9.60" fill="#008000"/>
<rect x="596.25" y="511.59" width="9.60" height="9.60" fill="#008000"/>
<rect x="602.39" y="511.29" width="9.60" height="9.60" fill="#008000"/>
<rect x="608.54" y="511.01" width="9.60" height="9.60" fill="#008000"/>
<rect x="614.69" y="510.75" width="9.60" height="9.60" fill="#008000"/>
<rect x="620.83" y="510.54" width="9.60" height="9.60" fill="#008000"/>
<rect x="626.98" y="510.39" width="9.60" height="9.60" fill="#008000"/>
<rect x="633.12" y="510.27" width="9.60" height="9.60" fill="#008000"/>
<rect x="639.27" y="510.16" width="9.60" height="9.60" fill="#008000"/>
<rect x="645.41" y="510.07" width="9.60" height="9.60" fill="#008000"/>
<rect x="651.56" y="510.01" width="9.60" height="9.60" fill="#008000"/>
<rect x="657.70" y="509.99" width="9.60" height="9.60" fill="#008000"/>
<polyline points="416.70,603.25 422.84,601.25 428.99,598.45 435.13,596.45 441.28,594.85 447.43,594.05 453.57,594.05 459.71,594.45 465.86,595.25 472.00,596.85 478.15,598.85 484.30,600.85 490.44,602.05 496.58,604.46 502.73,607.26 508.88,612.06 515.02,616.86 521.16,617.66 527.31,616.06 533.45,617.66 539.60,622.07 545.75,622.87 551.89,623.27 558.03,623.40 564.18,623.54 570.33,623.67 576.47,623.80 582.62,623.94 588.76,624.07 594.90,624.20 601.05,624.34 607.19,624.47 613.34,624.60 619.49,624.74 625.63,624.87 631.77,625.00 637.92,625.14 644.07,625.27 650.21,625.40 656.36,625.54 662.50,625.67" fill="none" stroke="#ff0000" stroke-width="2"/>
<polygon points="416.70,598.35 411.50,608.15 421.90,608.15" fill="#ff0000"/>
<polygon points="422.84,596.35 417.64,606.15 428.04,606.15" fill="#ff0000"/>
<polygon points="428.99,593.55 423.79,603.35 434.19,603.35" fill="#ff0000"/>
<polygon points="435.13,591.55 429.94,601.35 440.33,601.35" fill="#ff0000"/>
<polygon points="441.28,589.95 436.08,599.75 446.48,599.75" fill="#ff0000"/>
<polygon points="447.43,589.15 442.23,598.95 452.62,598.95" fill="#ff0000"/>
<polygon points="453.57,589.15 448.37,598.95 458.77,598.95" fill="#ff0000"/>
<polygon points="459.71,589.55 454.51,599.35 464.91,599.35" fill="#ff0000"/>
<polygon points="465.86,590.35 460.66,600.15 471.06,600.15" fill="#ff0000"/>
<polygon points="472.00,591.95 466.81,601.75 477.20,601.75" fill="#ff0000"/>
<polygon points="478.15,593.95 472.95,603.75 483.35,603.75" fill="#ff0000"/>
<polygon points="484.30,595.95 479.10,605.75 489.50,605.75" fill="#ff0000"/>
<polygon points="490.44,597.15 485.24,606.95 495.64,606.95" fill="#ff0000"/>
<polygon points="496.58,599.56 491.38,609.36 501.78,609.36" fill="#ff0000"/>
<polygon points="502.73,602.36 497.53,612.16 507.93,612.16" fill="#ff0000"/>
<polygon points="508.88,607.16 503.68,616.96 514.08,616.96" fill="#ff0000"/>
<polygon points="515.02,611.96 509.82,621.76 520.22,621.76" fill="#ff0000"/>
<polygon points="521.16,612.76 515.96,622.56 526.37,622.56" fill="#ff0000"/>
<polygon points="527.31,611.16 522.11,620.96 532.51,620.96" fill="#ff0000"/>
<polygon points="533.45,612.76 528.25,622.56 538.65,622.56" fill="#ff0000"/>
<polygon points="539.60,617.17 534.40,626.97 544.80,626.97" fill="#ff0000"/>
<polygon points="545.75,617.97 540.54,627.77 550.95,627.77" fill="#ff0000"/>
<polygon points="551.89,618.37 546.69,628.17 557.09,628.17" fill="#ff0000"/>
<polygon points="558.03,618.50 552.83,628.30 563.24,628.30" fill="#ff0000"/>
<polygon points="564.18,618.64 558.98,628.44 569.38,628.44" fill="#ff0000"/>
<polygon points="570.33,618.77 565.12,628.57 575.53,628.57" fill="#ff0000"/>
<polygon points="576.47,618.90 571.27,628.70 581.67,628.70" fill="#ff0000"/>
<polygon points="582.62,619.04 577.41,628.84 587.82,628.84" fill="#ff0000"/>
<polygon points="588.76,619.17 583.56,628.97 593.96,628.97" fill="#ff0000"/>
<polygon points="594.90,619.30 589.70,629.10 600.11,629.10" fill="#ff0000"/>
<polygon points="601.05,619.44 595.85,629.24 606.25,629.24" fill="#ff0000"/>
<polygon points="607.19,619.57 601.99,629.37 612.39,629.37" fill="#ff0000"/>
<polygon points="613.34,619.70 608.14,629.50 618.54,629.50" fill="#ff0000"/>
<polygon points="619.49,619.84 614.28,629.64 624.69,629.64" fill="#ff0000"/>
<polygon points="625.63,619.97 620.43,629.77 630.83,629.77" fill="#ff0000"/>
<polygon points="631.77,620.10 626.57,629.90 636.98,629.90" fill="#ff0000"/>
<polygon points="637.92,620.24 632.72,630.04 643.12,630.04" fill="#ff0000"/>
<polygon points="644.07,620.37 638.87,630.17 649.27,630.17" fill="#ff0000"/>
<polygon points="650.21,620.50 645.01,630.30 655.41,630.30" fill="#ff0000"/>
<polygon points="656.36,620.64 651.15,630.44 661.56,630.44" fill="#ff0000"/>
<polygon points="662.50,620.77 657.30,630.57 667.70,630.57" fill="#ff0000"/>
<polyline points="416.70,618.87 422.84,617.26 428.99,616.46 435.13,616.46 441.28,617.26 447.43,618.47 453.57,620.47 459.71,622.87 465.86,626.87 472.00,636.08 478.15,638.08 484.30,638.88 490.44,642.08 496.58,664.50 502.73,664.50 508.88,664.50 515.02,664.50 521.16,664.50 527.31,664.50 533.45,664.50 539.60,664.50 545.75,664.50 551.89,664.50 558.03,664.50 564.18,664.50 570.33,664.50 576.47,664.50 582.62,664.50 588.76,664.50 594.90,664.50 601.05,664.50 607.19,664.50 613.34,664.50 619.49,664.50 625.63,664.50 631.77,664.50 637.92,664.50 644.07,664.50 650.21,664.50 656.36,664.50 662.50,664.50" fill="none" stroke="#00bfbf" stroke-width="2"/>
<polygon points="416.70,611.82 420.80,618.87 416.70,625.92 412.60,618.87" fill="#00bfbf"/>
<polygon points="422.84,610.21 426.94,617.26 422.84,624.31 418.74,617.26" fill="#00bfbf"/>
<polygon points="428.99,609.41 433.09,616.46 428.99,623.51 424.89,616.46" fill="#00bfbf"/>
<polygon points="435.13,609.41 439.24,616.46 435.13,623.51 431.03,616.46" fill="#00bfbf"/>
<polygon points="441.28,610.21 445.38,617.26 441.28,624.31 437.18,617.26" fill="#00bfbf"/>
<polygon points="447.43,611.42 451.53,618.47 447.43,625.52 443.32,618.47" fill="#00bfbf"/>
<polygon points="453.57,613.42 457.67,620.47 453.57,627.52 449.47,620.47" fill="#00bfbf"/>
<polygon points="459.71,615.82 463.81,622.87 459.71,629.92 455.61,622.87" fill="#00bfbf"/>
<polygon points="465.86,619.82 469.96,626.87 465.86,633.92 461.76,626.87" fill="#00bfbf"/>
<polygon points="472.00,629.03 476.11,636.08 472.00,643.13 467.90,636.08" fill="#00bfbf"/>
<polygon points="478.15,631.03 482.25,638.08 478.15,645.13 474.05,638.08" fill="#00bfbf"/>
<polygon points="484.30,631.83 488.40,638.88 484.30,645.93 480.19,638.88" fill="#00bfbf"/>
<polygon points="490.44,635.03 494.54,642.08 490.44,649.13 486.34,642.08" fill="#00bfbf"/>
<polygon points="496.58,657.45 500.69,664.50 496.58,671.55 492.48,664.50" fill="#00bfbf"/>
<polygon points="502.73,657.45 506.83,664.50 502.73,671.55 498.63,664.50" fill="#00bfbf"/>
<polygon points="508.88,657.45 512.98,664.50 508.88,671.55 504.77,664.50" fill="#00bfbf"/>
<polygon points="515.02,657.45 519.12,664.50 515.02,671.55 510.92,664.50" fill="#00bfbf"/>
<polygon points="521.16,657.45 525.26,664.50 521.16,671.55 517.06,664.50" fill="#00bfbf"/>
<polygon points="527.31,657.45 531.41,664.50 527.31,671.55 523.21,664.50" fill="#00bfbf"/>
<polygon points="533.45,657.45 537.55,664.50 533.45,671.55 529.35,664.50" fill="#00bfbf"/>
<polygon points="539.60,657.45 543.70,664.50 539.60,671.55 535.50,664.50" fill="#00bfbf"/>
<polygon points="545.75,657.45 549.85,664.50 545.75,671.55 541.64,664.50" fill="#00bfbf"/>
<polygon points="551.89,657.45 555.99,664.50 551.89,671.55 547.79,664.50" fill="#00bfbf"/>
<polygon points="558.03,657.45 562.13,664.50 558.03,671.55 553.93,664.50" fill="#00bfbf"/>
<polygon points="564.18,657.45 568.28,664.50 564.18,671.55 560.08,664.50" fill="#00bfbf"/>
<polygon points="570.33,657.45 574.43,664.50 570.33,671.55 566.23,664.50" fill="#00bfbf"/>
<polygon points="576.47,657.45 580.57,664.50 576.47,671.55 572.37,664.50" fill="#00bfbf"/>
<polygon points="582.62,657.45 586.72,664.50 582.62,671.55 578.51,664.50" fill="#00bfbf"/>
<polygon points="588.76,657.45 592.86,664.50 588.76,671.55 584.66,664.50" fill="#00bfbf"/>
<polygon points="594.90,657.45 599.00,664.50 594.90,671.55 590.80,664.50" fill="#00bfbf"/>
<polygon points="601.05,657.45 605.15,664.50 601.05,671.55 596.95,664.50" fill="#00bfbf"/>
<polygon points="607.19,657.45 611.29,664.50 607.19,671.55 603.09,664.50" fill="#00bfbf"/>
<polygon points="613.34,657.45 617.44,664.50 613.34,671.55 609.24,664.50" fill="#00bfbf"/>
<polygon points="619.49,657.45 623.59,664.50 619.49,671.55 615.38,664.50" fill="#00bfbf"/>
<polygon points="625.63,657.45 629.73,664.50 625.63,671.55 621.53,664.50" fill="#00bfbf"/>
<polygon points="631.77,657.45 635.88,664.50 631.77,671.55 627.67,664.50" fill="#00bfbf"/>
<polygon points="637.92,657.45 642.02,664.50 637.92,671.55 633.82,664.50" fill="#00bfbf"/>
<polygon points="644.07,657.45 648.17,664.50 644.07,671.55 639.97,664.50" fill="#00bfbf"/>
<polygon points="650.21,657.45 654.31,664.50 650.21,671.55 646.11,664.50" fill="#00bfbf"/>
<polygon points="656.36,657.45 660.46,664.50 656.36,671.55 652.25,664.50" fill="#00bfbf"/>
<polygon points="662.50,657.45 666.60,664.50 662.50,671.55 658.40,664.50" fill="#00bfbf"/>
</g>
<rect x="416.5" y="384.5" width="246.0" height="280.0" fill="none" stroke="#000" stroke-width="1"/>
<line x1="412.5" y1="664.5" x2="416.5" y2="664.5" stroke="#000" stroke-width="1"/>
<text x="409.0" y="670.9" text-anchor="end" class="t">0.00</text>
<line x1="412.5" y1="624.5" x2="416.5" y2="624.5" stroke="#000" stroke-width="1"/>
<text x="409.0" y="630.9" text-anchor="end" class="t">0.01</text>
<line x1="412.5" y1="584.5" x2="416.5" y2="584.5" stroke="#000" stroke-width="1"/>
<text x="409.0" y="590.9" text-anchor="end" class="t">0.02</text>
<line x1="412.5" y1="544.5" x2="416.5" y2="544.5" stroke="#000" stroke-width="1"/>
<text x="409.0" y="550.9" text-anchor="end" class="t">0.03</text>
<line x1="412.5" y1="504.5" x2="416.5" y2="504.5" stroke="#000" stroke-width="1"/>
<text x="409.0" y="510.9" text-anchor="end" class="t">0.04</text>
<line x1="412.5" y1="464.5" x2="416.5" y2="464.5" stroke="#000" stroke-width="1"/>
<text x="409.0" y="470.9" text-anchor="end" class="t">0.05</text>
<line x1="412.5" y1="424.5" x2="416.5" y2="424.5" stroke="#000" stroke-width="1"/>
<text x="409.0" y="430.9" text-anchor="end" class="t">0.06</text>
<line x1="412.5" y1="384.5" x2="416.5" y2="384.5" stroke="#000" stroke-width="1"/>
<text x="409.0" y="390.9" text-anchor="end" class="t">0.07</text>
<line x1="416.5" y1="664.5" x2="416.5" y2="668.5" stroke="#000" stroke-width="1"/>
<text x="416.5" y="687.7" text-anchor="middle" class="t">0.0</text>
<line x1="478.5" y1="664.5" x2="478.5" y2="668.5" stroke="#000" stroke-width="1"/>
<text x="478.5" y="687.7" text-anchor="middle" class="t">0.5</text>
<line x1="539.5" y1="664.5" x2="539.5" y2="668.5" stroke="#000" stroke-width="1"/>
<text x="539.5" y="687.7" text-anchor="middle" class="t">1.0</text>
<line x1="601.5" y1="664.5" x2="601.5" y2="668.5" stroke="#000" stroke-width="1"/>
<text x="601.5" y="687.7" text-anchor="middle" class="t">1.5</text>
<line x1="662.5" y1="664.5" x2="662.5" y2="668.5" stroke="#000" stroke-width="1"/>
<text x="662.5" y="687.7" text-anchor="middle" class="t">2.0</text>
<text x="429.41" y="411.90" class="f" style="font-size:20.5px;font-weight:bold;">c)</text>
<text x="495.20" y="709.80" class="f" style="font-size:20.0px;font-style:italic;">g</text>
<text x="504.61" y="712.00" class="f" style="font-size:14.5px;">L</text>
<text x="513.58" y="709.80" class="f" style="font-size:20.0px;font-style:italic;">μ</text>
<text x="523.69" y="712.00" class="f" style="font-size:14.5px;">B</text>
<text x="533.23" y="709.80" class="f" style="font-size:20.0px;font-style:italic;">B</text>
<text x="547.45" y="712.00" class="f" style="font-size:14.5px;">z</text>
<text x="565.58" y="709.80" class="f" style="font-size:20.0px;">[</text>
<text x="571.27" y="709.80" class="f" style="font-size:20.0px;font-style:italic;">t</text>
<text x="578.60" y="709.80" class="f" style="font-size:20.0px;">]</text>
<g transform="translate(360.80,548.3) rotate(-90)">
<text x="-0.71" y="0.00" class="f" style="font-size:20.4px;">Δ</text>
<path d="M21.45,3.5 L21.45,-6.9 M18.85,-3.9000000000000004 L21.45,-6.9 L24.05,-3.9000000000000004" fill="none" stroke="#000" stroke-width="1.3"/>
<path d="M38.30,3.5 L38.30,-6.9 M35.70,-3.9000000000000004 L38.30,-6.9 L40.90,-3.9000000000000004" fill="none" stroke="#000" stroke-width="1.3"/>
</g>
<rect x="144.6" y="393.8" width="151.20000000000002" height="103.0" rx="4" fill="#fff" fill-opacity="0.8" stroke="#d2d2d2" stroke-width="1.4"/>
<line x1="153.8" y1="411.3" x2="174.8" y2="411.3" stroke="#0000ff" stroke-width="2"/>
<circle cx="164.30" cy="411.30" r="4.9" fill="#0000ff"/>
<text x="189.73" y="417.90" class="f" style="font-size:20.0px;font-style:italic;">q</text>
<text x="202.41" y="420.80" class="f" style="font-size:14.5px;">0</text>
<text transform="translate(235.57,417.90) scale(1.05,1)" class="f" style="font-size:20.0px;">0.4</text>
<text transform="translate(264.01,417.90) scale(1.15,1)" class="f" style="font-size:20.0px;">/</text>
<text x="273.15" y="417.90" class="f" style="font-size:20.0px;font-style:italic;">a</text>
<rect x="216.6" y="409.40" width="12.7" height="1.7" fill="#000"/><rect x="216.6" y="413.20" width="12.7" height="1.7" fill="#000"/>
<line x1="153.8" y1="432.7" x2="174.8" y2="432.7" stroke="#008000" stroke-width="2"/>
<rect x="159.50" y="427.90" width="9.60" height="9.60" fill="#008000"/>
<text x="189.73" y="439.30" class="f" style="font-size:20.0px;font-style:italic;">q</text>
<text x="202.41" y="442.20" class="f" style="font-size:14.5px;">0</text>
<text transform="translate(235.73,439.30) scale(1.05,1)" class="f" style="font-size:20.0px;">0.8</text>
<text transform="translate(264.01,439.30) scale(1.15,1)" class="f" style="font-size:20.0px;">/</text>
<text x="273.15" y="439.30" class="f" style="font-size:20.0px;font-style:italic;">a</text>
<rect x="216.6" y="430.80" width="12.7" height="1.7" fill="#000"/><rect x="216.6" y="434.60" width="12.7" height="1.7" fill="#000"/>
<line x1="153.8" y1="454.1" x2="174.8" y2="454.1" stroke="#ff0000" stroke-width="2"/>
<polygon points="164.30,449.20 159.10,459.00 169.50,459.00" fill="#ff0000"/>
<text x="189.73" y="460.70" class="f" style="font-size:20.0px;font-style:italic;">q</text>
<text x="202.41" y="463.60" class="f" style="font-size:14.5px;">0</text>
<text transform="translate(235.44,460.70) scale(1.05,1)" class="f" style="font-size:20.0px;">1.2</text>
<text transform="translate(264.01,460.70) scale(1.15,1)" class="f" style="font-size:20.0px;">/</text>
<text x="273.15" y="460.70" class="f" style="font-size:20.0px;font-style:italic;">a</text>
<rect x="216.6" y="452.20" width="12.7" height="1.7" fill="#000"/><rect x="216.6" y="456.00" width="12.7" height="1.7" fill="#000"/>
<line x1="153.8" y1="475.5" x2="174.8" y2="475.5" stroke="#00bfbf" stroke-width="2"/>
<polygon points="164.30,468.45 168.40,475.50 164.30,482.55 160.20,475.50" fill="#00bfbf"/>
<text x="189.73" y="482.10" class="f" style="font-size:20.0px;font-style:italic;">q</text>
<text x="202.41" y="485.00" class="f" style="font-size:14.5px;">0</text>
<text transform="translate(235.34,482.10) scale(1.05,1)" class="f" style="font-size:20.0px;">1.5</text>
<text transform="translate(264.01,482.10) scale(1.15,1)" class="f" style="font-size:20.0px;">/</text>
<text x="273.15" y="482.10" class="f" style="font-size:20.0px;font-style:italic;">a</text>
<rect x="216.6" y="473.60" width="12.7" height="1.7" fill="#000"/><rect x="216.6" y="477.40" width="12.7" height="1.7" fill="#000"/>
</svg></body></html>
